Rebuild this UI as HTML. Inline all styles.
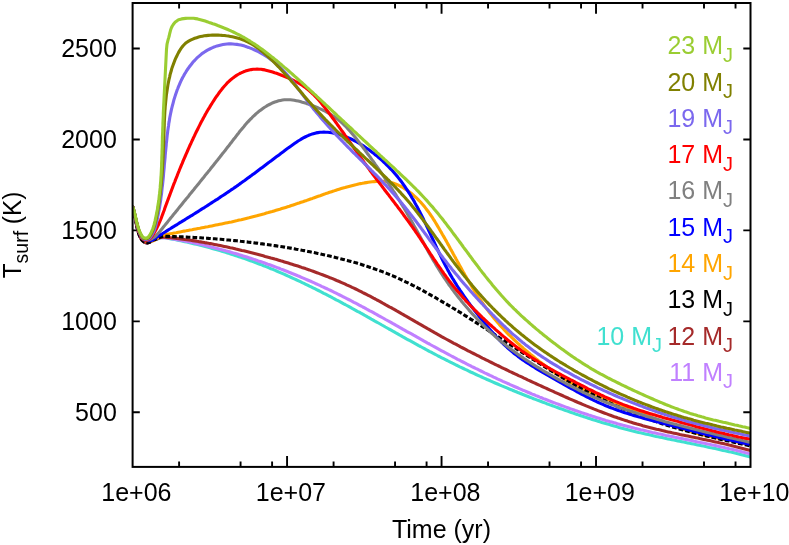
<!DOCTYPE html>
<html><head><meta charset="utf-8"><title>Tsurf vs Time</title>
<style>html,body{margin:0;padding:0;background:#fff;}body{width:789px;height:545px;overflow:hidden;font-family:"Liberation Sans",sans-serif;}svg{display:block;will-change:transform;}</style></head>
<body>
<svg width="789" height="545" viewBox="0 0 789 545">
<rect width="789" height="545" fill="#fff"/>
<defs><clipPath id="c"><rect x="132.60" y="3.00" width="617.90" height="463.90"/></clipPath></defs>
<path d="M179.10 466.90 v-5.40 M179.10 3.00 v5.40 M240.57 466.90 v-5.40 M240.57 3.00 v5.40 M272.10 466.90 v-5.40 M272.10 3.00 v5.40 M287.07 466.90 v-10.80 M287.07 3.00 v10.80 M333.58 466.90 v-5.40 M333.58 3.00 v5.40 M395.05 466.90 v-5.40 M395.05 3.00 v5.40 M426.58 466.90 v-5.40 M426.58 3.00 v5.40 M441.55 466.90 v-10.80 M441.55 3.00 v10.80 M488.05 466.90 v-5.40 M488.05 3.00 v5.40 M549.52 466.90 v-5.40 M549.52 3.00 v5.40 M581.05 466.90 v-5.40 M581.05 3.00 v5.40 M596.02 466.90 v-10.80 M596.02 3.00 v10.80 M642.53 466.90 v-5.40 M642.53 3.00 v5.40 M704.00 466.90 v-5.40 M704.00 3.00 v5.40 M735.53 466.90 v-5.40 M735.53 3.00 v5.40 M132.60 412.32 h7.20 M750.50 412.32 h-7.20 M132.60 321.36 h7.20 M750.50 321.36 h-7.20 M132.60 230.40 h7.20 M750.50 230.40 h-7.20 M132.60 139.44 h7.20 M750.50 139.44 h-7.20 M132.60 48.48 h7.20 M750.50 48.48 h-7.20" stroke="#000" stroke-width="1.9" fill="none"/>
<g clip-path="url(#c)" fill="none" stroke-width="3.1" stroke-linejoin="round">
<path d="M132.5 206.1 L133.0 208.0 L133.5 210.0 L133.9 211.9 L134.3 213.9 L134.7 215.9 L135.1 217.9 L135.5 219.8 L135.9 221.8 L136.3 223.8 L136.7 225.8 L137.1 227.7 L137.6 229.7 L138.1 231.6 L138.7 233.5 L139.4 235.4 L140.2 237.2 L141.2 239.1 L142.4 240.7 L143.9 242.0 L145.8 242.8 L147.8 242.9 L149.8 242.2 L151.6 241.1 L153.4 240.3 L155.2 239.8 L157.1 239.2 L159.1 238.3 L161.1 237.7 L163.1 237.6 L165.1 237.8 L167.1 238.2 L169.1 238.5 L171.0 238.9 L173.0 239.2 L175.0 239.6 L176.9 240.0 L178.9 240.4 L180.9 240.8 L182.8 241.2 L184.8 241.7 L186.8 242.1 L188.7 242.5 L190.7 243.0 L192.6 243.4 L194.6 243.9 L196.5 244.3 L198.5 244.8 L200.4 245.3 L202.4 245.8 L204.3 246.3 L206.3 246.8 L208.2 247.3 L210.2 247.8 L212.1 248.4 L214.0 248.9 L216.0 249.5 L217.9 250.0 L219.8 250.6 L221.8 251.2 L223.7 251.8 L225.6 252.3 L227.5 252.9 L229.5 253.5 L231.4 254.2 L233.3 254.8 L235.2 255.4 L237.1 256.0 L239.0 256.7 L240.9 257.3 L242.8 258.0 L244.7 258.6 L246.6 259.3 L248.5 260.0 L250.4 260.7 L252.3 261.4 L254.2 262.1 L256.1 262.8 L257.9 263.5 L259.8 264.2 L261.7 264.9 L263.6 265.7 L265.4 266.4 L267.3 267.1 L269.1 267.9 L271.0 268.7 L272.9 269.4 L274.7 270.2 L276.6 271.0 L278.4 271.8 L280.3 272.6 L282.1 273.4 L283.9 274.2 L285.8 275.0 L287.6 275.8 L289.4 276.6 L291.3 277.5 L293.1 278.3 L294.9 279.1 L296.8 280.0 L298.6 280.8 L300.4 281.7 L302.2 282.6 L304.0 283.4 L305.8 284.3 L307.6 285.2 L309.4 286.1 L311.2 286.9 L313.0 287.8 L314.8 288.7 L316.6 289.6 L318.4 290.5 L320.2 291.4 L322.0 292.3 L323.8 293.3 L325.6 294.2 L327.4 295.1 L329.1 296.0 L330.9 296.9 L332.7 297.9 L334.5 298.8 L336.2 299.8 L338.0 300.7 L339.8 301.6 L341.6 302.6 L343.3 303.6 L345.1 304.5 L346.9 305.5 L348.6 306.4 L350.4 307.4 L352.1 308.4 L353.9 309.3 L355.7 310.3 L357.4 311.3 L359.2 312.2 L360.9 313.2 L362.7 314.2 L364.4 315.2 L366.2 316.1 L367.9 317.1 L369.7 318.1 L371.4 319.1 L373.2 320.1 L374.9 321.1 L376.7 322.1 L378.4 323.0 L380.2 324.0 L381.9 325.0 L383.7 326.0 L385.4 327.0 L387.2 328.0 L388.9 329.0 L390.7 329.9 L392.4 330.9 L394.2 331.9 L395.9 332.9 L397.7 333.9 L399.4 334.9 L401.2 335.8 L402.9 336.8 L404.7 337.8 L406.4 338.8 L408.2 339.8 L409.9 340.7 L411.7 341.7 L413.5 342.7 L415.2 343.6 L417.0 344.6 L418.7 345.6 L420.5 346.5 L422.3 347.5 L424.0 348.4 L425.8 349.4 L427.6 350.3 L429.3 351.3 L431.1 352.2 L432.9 353.2 L434.7 354.1 L436.4 355.0 L438.2 356.0 L440.0 356.9 L441.8 357.8 L443.6 358.7 L445.4 359.6 L447.2 360.5 L448.9 361.4 L450.8 362.3 L452.5 363.2 L454.4 364.1 L456.1 365.0 L457.9 365.9 L459.8 366.8 L461.6 367.6 L463.4 368.5 L465.2 369.4 L467.0 370.2 L468.8 371.1 L470.6 372.0 L472.5 372.8 L474.3 373.6 L476.1 374.5 L477.9 375.3 L479.8 376.2 L481.6 377.0 L483.4 377.8 L485.3 378.6 L487.1 379.5 L489.0 380.3 L490.8 381.1 L492.6 381.9 L494.5 382.7 L496.3 383.5 L498.2 384.3 L500.0 385.1 L501.9 385.9 L503.7 386.6 L505.6 387.4 L507.4 388.2 L509.3 389.0 L511.2 389.7 L513.0 390.5 L514.9 391.3 L516.8 392.0 L518.6 392.8 L520.5 393.5 L522.4 394.3 L524.2 395.0 L526.1 395.8 L528.0 396.5 L529.8 397.2 L531.7 397.9 L533.6 398.7 L535.5 399.4 L537.3 400.1 L539.2 400.8 L541.1 401.5 L543.0 402.2 L544.9 402.9 L546.7 403.7 L548.6 404.4 L550.5 405.1 L552.4 405.7 L554.3 406.4 L556.2 407.1 L558.0 407.8 L559.9 408.5 L561.8 409.1 L563.7 409.8 L565.6 410.5 L567.5 411.1 L569.4 411.8 L571.3 412.5 L573.2 413.1 L575.1 413.8 L577.0 414.4 L578.9 415.1 L580.8 415.7 L582.7 416.3 L584.6 416.9 L586.5 417.6 L588.4 418.2 L590.3 418.8 L592.2 419.4 L594.1 420.0 L596.0 420.6 L598.0 421.2 L599.9 421.8 L601.8 422.4 L603.7 422.9 L605.6 423.5 L607.5 424.1 L609.5 424.6 L611.4 425.2 L613.3 425.7 L615.2 426.3 L617.2 426.8 L619.1 427.4 L621.0 427.9 L623.0 428.4 L624.9 428.9 L626.9 429.4 L628.8 429.9 L630.7 430.4 L632.7 430.9 L634.6 431.4 L636.6 431.9 L638.5 432.4 L640.5 432.8 L642.4 433.3 L644.4 433.7 L646.4 434.2 L648.3 434.6 L650.3 435.1 L652.2 435.5 L654.2 435.9 L656.2 436.4 L658.1 436.8 L660.1 437.2 L662.1 437.6 L664.0 438.1 L666.0 438.5 L668.0 438.9 L669.9 439.3 L671.9 439.7 L673.9 440.1 L675.9 440.5 L677.8 440.9 L679.8 441.3 L681.8 441.7 L683.7 442.1 L685.7 442.5 L687.7 442.9 L689.7 443.3 L691.6 443.7 L693.6 444.1 L695.6 444.5 L697.5 444.9 L699.5 445.3 L701.5 445.7 L703.5 446.1 L705.4 446.5 L707.4 446.9 L709.4 447.4 L711.3 447.8 L713.3 448.2 L715.3 448.6 L717.2 449.1 L719.2 449.5 L721.2 449.9 L723.1 450.4 L725.1 450.8 L727.0 451.2 L729.0 451.7 L731.0 452.1 L732.9 452.6 L734.9 453.1 L736.8 453.5 L738.8 454.0 L740.7 454.5 L742.6 455.0 L744.6 455.5 L746.5 456.0 L748.5 456.5 L750.4 457.0" stroke="#40E0D0"/>
<path d="M132.5 206.1 L133.0 208.0 L133.5 210.0 L133.9 211.9 L134.3 213.9 L134.7 215.9 L135.1 217.8 L135.5 219.8 L135.9 221.8 L136.3 223.8 L136.7 225.7 L137.1 227.7 L137.6 229.6 L138.1 231.6 L138.7 233.5 L139.4 235.4 L140.2 237.2 L141.2 239.0 L142.4 240.6 L143.9 241.9 L145.8 242.8 L147.8 242.9 L149.7 242.2 L151.6 241.1 L153.3 240.3 L155.2 239.7 L157.0 239.1 L159.0 238.2 L161.0 237.6 L163.0 237.4 L165.0 237.6 L167.0 237.9 L168.9 238.2 L170.9 238.5 L172.9 238.9 L174.9 239.2 L176.8 239.6 L178.8 239.9 L180.8 240.3 L182.8 240.7 L184.7 241.0 L186.7 241.4 L188.7 241.8 L190.6 242.2 L192.6 242.6 L194.5 243.1 L196.5 243.5 L198.5 243.9 L200.4 244.3 L202.4 244.8 L204.3 245.3 L206.3 245.7 L208.2 246.2 L210.2 246.7 L212.1 247.2 L214.1 247.7 L216.0 248.2 L218.0 248.7 L219.9 249.2 L221.8 249.7 L223.8 250.2 L225.7 250.8 L227.6 251.3 L229.6 251.8 L231.5 252.4 L233.4 253.0 L235.4 253.5 L237.3 254.1 L239.2 254.7 L241.1 255.3 L243.1 255.9 L245.0 256.5 L246.9 257.1 L248.8 257.7 L250.7 258.3 L252.6 258.9 L254.5 259.6 L256.4 260.2 L258.3 260.9 L260.2 261.5 L262.1 262.1 L264.0 262.8 L265.9 263.5 L267.8 264.2 L269.7 264.8 L271.6 265.5 L273.5 266.2 L275.3 266.9 L277.2 267.6 L279.1 268.3 L281.0 269.1 L282.9 269.8 L284.7 270.5 L286.6 271.2 L288.4 272.0 L290.3 272.7 L292.2 273.5 L294.0 274.2 L295.9 275.0 L297.8 275.8 L299.6 276.5 L301.4 277.3 L303.3 278.1 L305.1 278.9 L307.0 279.7 L308.8 280.5 L310.7 281.3 L312.5 282.1 L314.3 282.9 L316.1 283.8 L318.0 284.6 L319.8 285.4 L321.6 286.3 L323.4 287.1 L325.2 288.0 L327.1 288.8 L328.9 289.7 L330.7 290.5 L332.5 291.4 L334.3 292.3 L336.1 293.2 L337.9 294.1 L339.7 295.0 L341.5 295.9 L343.3 296.8 L345.0 297.7 L346.8 298.6 L348.6 299.5 L350.4 300.4 L352.2 301.3 L353.9 302.3 L355.7 303.2 L357.5 304.1 L359.2 305.1 L361.0 306.0 L362.8 307.0 L364.6 307.9 L366.3 308.9 L368.1 309.8 L369.8 310.8 L371.6 311.7 L373.4 312.7 L375.1 313.7 L376.9 314.6 L378.6 315.6 L380.4 316.6 L382.1 317.5 L383.9 318.5 L385.6 319.5 L387.4 320.5 L389.1 321.4 L390.9 322.4 L392.6 323.4 L394.4 324.4 L396.1 325.4 L397.9 326.4 L399.6 327.3 L401.4 328.3 L403.1 329.3 L404.9 330.3 L406.6 331.3 L408.4 332.3 L410.1 333.2 L411.9 334.2 L413.6 335.2 L415.4 336.2 L417.1 337.2 L418.9 338.2 L420.6 339.1 L422.4 340.1 L424.1 341.1 L425.9 342.1 L427.6 343.1 L429.4 344.0 L431.1 345.0 L432.9 346.0 L434.6 346.9 L436.4 347.9 L438.2 348.9 L439.9 349.8 L441.7 350.8 L443.4 351.7 L445.2 352.7 L447.0 353.6 L448.8 354.6 L450.5 355.5 L452.3 356.5 L454.1 357.4 L455.9 358.3 L457.6 359.3 L459.4 360.2 L461.2 361.1 L463.0 362.0 L464.8 362.9 L466.6 363.9 L468.4 364.8 L470.2 365.7 L471.9 366.6 L473.8 367.5 L475.6 368.4 L477.4 369.2 L479.2 370.1 L481.0 371.0 L482.8 371.9 L484.6 372.8 L486.4 373.6 L488.2 374.5 L490.0 375.4 L491.8 376.2 L493.6 377.1 L495.5 377.9 L497.3 378.8 L499.1 379.6 L500.9 380.4 L502.8 381.3 L504.6 382.1 L506.4 382.9 L508.3 383.7 L510.1 384.6 L511.9 385.4 L513.8 386.2 L515.6 387.0 L517.5 387.8 L519.3 388.6 L521.1 389.4 L523.0 390.2 L524.8 390.9 L526.7 391.7 L528.5 392.5 L530.4 393.3 L532.2 394.1 L534.1 394.8 L536.0 395.6 L537.8 396.3 L539.7 397.1 L541.5 397.8 L543.4 398.6 L545.3 399.3 L547.1 400.0 L549.0 400.8 L550.9 401.5 L552.7 402.2 L554.6 402.9 L556.5 403.6 L558.4 404.3 L560.2 405.0 L562.1 405.7 L564.0 406.4 L565.9 407.1 L567.8 407.8 L569.7 408.5 L571.5 409.1 L573.4 409.8 L575.3 410.5 L577.2 411.1 L579.1 411.8 L581.0 412.4 L582.9 413.1 L584.8 413.7 L586.7 414.3 L588.6 415.0 L590.5 415.6 L592.4 416.2 L594.3 416.8 L596.2 417.4 L598.1 418.0 L600.0 418.6 L602.0 419.2 L603.9 419.8 L605.8 420.4 L607.7 420.9 L609.6 421.5 L611.6 422.0 L613.5 422.6 L615.4 423.1 L617.4 423.7 L619.3 424.2 L621.2 424.7 L623.1 425.3 L625.1 425.8 L627.0 426.3 L629.0 426.8 L630.9 427.3 L632.9 427.8 L634.8 428.3 L636.7 428.7 L638.7 429.2 L640.6 429.7 L642.6 430.1 L644.5 430.6 L646.5 431.1 L648.5 431.5 L650.4 431.9 L652.4 432.4 L654.3 432.8 L656.3 433.2 L658.3 433.7 L660.2 434.1 L662.2 434.5 L664.2 434.9 L666.1 435.4 L668.1 435.8 L670.1 436.2 L672.0 436.6 L674.0 437.0 L676.0 437.4 L677.9 437.8 L679.9 438.2 L681.9 438.6 L683.8 439.0 L685.8 439.4 L687.8 439.8 L689.8 440.2 L691.7 440.6 L693.7 441.1 L695.6 441.5 L697.6 441.9 L699.6 442.3 L701.6 442.7 L703.5 443.1 L705.5 443.5 L707.5 443.9 L709.4 444.3 L711.4 444.8 L713.4 445.2 L715.3 445.6 L717.3 446.0 L719.2 446.5 L721.2 446.9 L723.1 447.3 L725.1 447.8 L727.1 448.2 L729.0 448.7 L731.0 449.1 L732.9 449.6 L734.9 450.1 L736.8 450.5 L738.8 451.0 L740.7 451.5 L742.6 452.0 L744.6 452.5 L746.5 453.0 L748.5 453.5 L750.4 454.0" stroke="#C080FF"/>
<path d="M132.5 206.1 L133.0 208.0 L133.5 210.0 L133.9 211.9 L134.3 213.9 L134.7 215.9 L135.1 217.8 L135.5 219.8 L135.9 221.8 L136.3 223.8 L136.7 225.7 L137.1 227.7 L137.6 229.6 L138.1 231.6 L138.7 233.5 L139.4 235.4 L140.2 237.2 L141.2 239.0 L142.4 240.6 L143.9 241.9 L145.8 242.8 L147.8 242.9 L149.7 242.2 L151.5 241.1 L153.3 240.2 L155.1 239.6 L157.0 238.9 L158.9 238.1 L160.8 237.4 L162.8 237.1 L164.8 237.2 L166.8 237.4 L168.8 237.6 L170.8 237.8 L172.8 238.0 L174.8 238.2 L176.8 238.4 L178.8 238.7 L180.8 238.9 L182.8 239.2 L184.8 239.5 L186.8 239.7 L188.8 240.0 L190.8 240.3 L192.7 240.6 L194.7 240.9 L196.7 241.2 L198.7 241.6 L200.7 241.9 L202.6 242.2 L204.6 242.6 L206.6 242.9 L208.5 243.3 L210.5 243.6 L212.5 244.0 L214.4 244.4 L216.4 244.8 L218.4 245.2 L220.3 245.6 L222.3 246.0 L224.2 246.4 L226.2 246.8 L228.2 247.2 L230.1 247.7 L232.1 248.1 L234.0 248.5 L236.0 249.0 L237.9 249.4 L239.9 249.9 L241.8 250.4 L243.8 250.8 L245.7 251.3 L247.7 251.8 L249.6 252.3 L251.5 252.8 L253.5 253.3 L255.4 253.8 L257.4 254.3 L259.3 254.8 L261.2 255.3 L263.2 255.8 L265.1 256.4 L267.1 256.9 L269.0 257.4 L270.9 258.0 L272.9 258.5 L274.8 259.1 L276.7 259.6 L278.7 260.2 L280.6 260.8 L282.5 261.3 L284.4 261.9 L286.4 262.5 L288.3 263.1 L290.2 263.7 L292.1 264.3 L294.1 264.9 L296.0 265.5 L297.9 266.1 L299.8 266.7 L301.7 267.4 L303.6 268.0 L305.5 268.6 L307.4 269.3 L309.3 269.9 L311.2 270.6 L313.1 271.3 L315.0 272.0 L316.9 272.7 L318.8 273.4 L320.6 274.1 L322.5 274.8 L324.4 275.5 L326.3 276.2 L328.1 276.9 L330.0 277.7 L331.9 278.4 L333.7 279.2 L335.6 280.0 L337.4 280.8 L339.3 281.5 L341.1 282.3 L342.9 283.1 L344.8 283.9 L346.6 284.8 L348.4 285.6 L350.2 286.4 L352.1 287.3 L353.9 288.1 L355.7 289.0 L357.5 289.9 L359.3 290.8 L361.1 291.7 L362.8 292.6 L364.6 293.5 L366.4 294.4 L368.2 295.3 L370.0 296.2 L371.7 297.1 L373.5 298.1 L375.3 299.0 L377.0 300.0 L378.8 300.9 L380.6 301.9 L382.3 302.9 L384.1 303.8 L385.8 304.8 L387.6 305.8 L389.3 306.8 L391.1 307.7 L392.8 308.7 L394.6 309.7 L396.3 310.7 L398.1 311.7 L399.8 312.7 L401.5 313.7 L403.3 314.7 L405.0 315.7 L406.8 316.7 L408.5 317.7 L410.2 318.7 L412.0 319.7 L413.7 320.7 L415.4 321.7 L417.2 322.7 L418.9 323.7 L420.7 324.7 L422.4 325.7 L424.1 326.7 L425.9 327.7 L427.6 328.7 L429.4 329.7 L431.1 330.7 L432.9 331.7 L434.6 332.7 L436.4 333.7 L438.1 334.6 L439.9 335.6 L441.6 336.6 L443.4 337.6 L445.1 338.5 L446.9 339.5 L448.6 340.4 L450.4 341.4 L452.2 342.4 L453.9 343.3 L455.7 344.2 L457.5 345.2 L459.3 346.1 L461.0 347.1 L462.8 348.0 L464.6 348.9 L466.4 349.9 L468.1 350.8 L469.9 351.7 L471.7 352.6 L473.5 353.5 L475.3 354.4 L477.1 355.3 L478.9 356.2 L480.6 357.1 L482.4 358.1 L484.2 358.9 L486.0 359.8 L487.8 360.7 L489.6 361.6 L491.4 362.5 L493.2 363.4 L495.0 364.3 L496.8 365.2 L498.6 366.0 L500.4 366.9 L502.2 367.8 L504.1 368.7 L505.9 369.5 L507.7 370.4 L509.5 371.3 L511.3 372.1 L513.1 373.0 L514.9 373.8 L516.7 374.7 L518.5 375.6 L520.4 376.4 L522.2 377.2 L524.0 378.1 L525.8 378.9 L527.6 379.8 L529.4 380.6 L531.3 381.5 L533.1 382.3 L534.9 383.1 L536.7 384.0 L538.5 384.8 L540.4 385.6 L542.2 386.5 L544.0 387.3 L545.9 388.1 L547.7 389.0 L549.5 389.8 L551.3 390.6 L553.2 391.4 L555.0 392.3 L556.8 393.1 L558.6 393.9 L560.5 394.7 L562.3 395.5 L564.1 396.4 L566.0 397.2 L567.8 398.0 L569.6 398.8 L571.5 399.6 L573.3 400.4 L575.2 401.2 L577.0 402.0 L578.8 402.8 L580.7 403.5 L582.5 404.3 L584.4 405.1 L586.2 405.9 L588.1 406.6 L589.9 407.4 L591.8 408.1 L593.6 408.9 L595.5 409.6 L597.4 410.4 L599.2 411.1 L601.1 411.8 L602.9 412.5 L604.8 413.2 L606.7 413.9 L608.5 414.6 L610.4 415.3 L612.3 416.0 L614.2 416.7 L616.1 417.3 L618.0 418.0 L619.9 418.6 L621.8 419.3 L623.6 419.9 L625.5 420.5 L627.5 421.1 L629.4 421.8 L631.3 422.3 L633.2 422.9 L635.1 423.5 L637.0 424.1 L638.9 424.6 L640.9 425.1 L642.8 425.7 L644.7 426.2 L646.7 426.7 L648.6 427.2 L650.5 427.7 L652.5 428.2 L654.4 428.7 L656.4 429.2 L658.3 429.6 L660.3 430.1 L662.2 430.6 L664.2 431.0 L666.2 431.5 L668.1 431.9 L670.1 432.3 L672.1 432.8 L674.0 433.2 L676.0 433.6 L678.0 434.0 L679.9 434.5 L681.9 434.9 L683.9 435.3 L685.9 435.7 L687.8 436.1 L689.8 436.5 L691.8 436.9 L693.7 437.3 L695.7 437.7 L697.7 438.1 L699.7 438.6 L701.6 439.0 L703.6 439.4 L705.6 439.8 L707.5 440.2 L709.5 440.6 L711.5 441.0 L713.4 441.5 L715.4 441.9 L717.4 442.3 L719.3 442.8 L721.3 443.2 L723.2 443.6 L725.2 444.1 L727.2 444.5 L729.1 445.0 L731.1 445.4 L733.0 445.9 L735.0 446.4 L736.9 446.9 L738.8 447.4 L740.8 447.9 L742.7 448.4 L744.6 448.9 L746.5 449.4 L748.5 450.0 L750.4 450.5" stroke="#A52A2A"/>
<path d="M132.5 206.1 L133.1 208.0 L133.6 210.0 L134.1 211.9 L134.5 213.9 L135.0 215.8 L135.4 217.8 L135.8 219.8 L136.2 221.7 L136.7 223.7 L137.1 225.6 L137.6 227.6 L138.2 229.6 L138.8 231.5 L139.4 233.4 L140.2 235.2 L141.2 237.0 L142.3 238.6 L143.8 239.9 L145.7 240.9 L147.8 241.3 L149.7 241.2 L151.6 240.9 L153.7 240.6 L155.5 239.7 L157.2 238.3 L158.8 237.0 L160.6 236.1 L162.5 235.4 L164.4 235.0 L166.4 234.6 L168.3 234.2 L170.3 233.8 L172.3 233.4 L174.2 233.0 L176.2 232.7 L178.2 232.3 L180.1 231.9 L182.1 231.5 L184.1 231.1 L186.0 230.8 L188.0 230.4 L190.0 230.0 L192.0 229.7 L193.9 229.3 L195.9 228.9 L197.9 228.5 L199.9 228.2 L201.9 227.8 L203.8 227.4 L205.8 227.0 L207.8 226.7 L209.8 226.3 L211.8 225.9 L213.7 225.5 L215.7 225.1 L217.7 224.7 L219.7 224.3 L221.6 223.9 L223.6 223.5 L225.6 223.1 L227.5 222.7 L229.5 222.3 L231.5 221.9 L233.4 221.4 L235.4 221.0 L237.3 220.6 L239.3 220.1 L241.2 219.7 L243.2 219.2 L245.2 218.7 L247.1 218.2 L249.0 217.8 L251.0 217.3 L252.9 216.8 L254.9 216.3 L256.8 215.8 L258.7 215.2 L260.7 214.7 L262.6 214.2 L264.5 213.7 L266.4 213.1 L268.4 212.6 L270.3 212.0 L272.2 211.5 L274.1 210.9 L276.1 210.3 L278.0 209.7 L279.9 209.2 L281.8 208.6 L283.7 208.0 L285.7 207.4 L287.6 206.8 L289.5 206.2 L291.4 205.5 L293.3 204.9 L295.2 204.3 L297.1 203.6 L299.1 203.0 L301.0 202.3 L302.9 201.7 L304.8 201.0 L306.7 200.4 L308.6 199.7 L310.5 199.0 L312.4 198.4 L314.3 197.7 L316.2 197.0 L318.2 196.3 L320.1 195.7 L322.0 195.0 L323.9 194.3 L325.8 193.6 L327.7 193.0 L329.6 192.3 L331.6 191.7 L333.5 191.1 L335.4 190.4 L337.3 189.8 L339.2 189.2 L341.2 188.6 L343.1 188.0 L345.0 187.5 L346.9 186.9 L348.9 186.4 L350.8 185.9 L352.7 185.4 L354.7 184.9 L356.6 184.5 L358.6 184.0 L360.5 183.6 L362.4 183.3 L364.4 182.9 L366.3 182.6 L368.3 182.3 L370.2 182.0 L372.2 181.8 L374.2 181.6 L376.1 181.4 L378.1 181.3 L380.0 181.3 L382.0 181.3 L383.9 181.4 L385.9 181.6 L387.8 181.9 L389.7 182.2 L391.6 182.7 L393.6 183.3 L395.4 183.9 L397.3 184.7 L399.2 185.6 L401.0 186.5 L402.9 187.5 L404.6 188.6 L406.4 189.8 L408.1 191.0 L409.8 192.2 L411.5 193.5 L413.1 194.9 L414.7 196.3 L416.2 197.7 L417.7 199.1 L419.1 200.6 L420.5 202.0 L421.8 203.5 L423.1 205.0 L424.4 206.6 L425.6 208.1 L426.8 209.7 L428.0 211.3 L429.2 212.9 L430.3 214.5 L431.4 216.1 L432.5 217.7 L433.5 219.4 L434.6 221.0 L435.6 222.7 L436.6 224.4 L437.6 226.1 L438.6 227.8 L439.6 229.5 L440.6 231.2 L441.6 232.9 L442.6 234.7 L443.6 236.4 L444.6 238.1 L445.6 239.9 L446.6 241.6 L447.5 243.4 L448.5 245.1 L449.5 246.9 L450.4 248.7 L451.4 250.4 L452.4 252.2 L453.3 254.0 L454.3 255.8 L455.3 257.5 L456.2 259.3 L457.2 261.1 L458.2 262.8 L459.1 264.6 L460.1 266.4 L461.1 268.1 L462.1 269.9 L463.1 271.7 L464.1 273.4 L465.1 275.2 L466.1 276.9 L467.1 278.7 L468.1 280.4 L469.2 282.2 L470.2 283.9 L471.3 285.6 L472.3 287.4 L473.4 289.1 L474.4 290.8 L475.5 292.5 L476.6 294.1 L477.7 295.8 L478.8 297.5 L479.9 299.2 L481.1 300.8 L482.2 302.5 L483.4 304.1 L484.5 305.8 L485.7 307.4 L486.9 309.0 L488.1 310.6 L489.3 312.2 L490.5 313.8 L491.7 315.3 L493.0 316.9 L494.2 318.5 L495.5 320.0 L496.8 321.5 L498.1 323.1 L499.4 324.6 L500.8 326.1 L502.1 327.5 L503.5 329.0 L504.8 330.5 L506.2 331.9 L507.6 333.4 L509.0 334.8 L510.5 336.2 L511.9 337.6 L513.3 339.0 L514.8 340.4 L516.3 341.8 L517.7 343.2 L519.2 344.5 L520.7 345.9 L522.2 347.2 L523.7 348.6 L525.3 349.9 L526.8 351.2 L528.3 352.5 L529.9 353.8 L531.4 355.1 L533.0 356.3 L534.6 357.6 L536.1 358.9 L537.7 360.1 L539.3 361.4 L540.9 362.6 L542.5 363.8 L544.1 365.0 L545.7 366.2 L547.3 367.4 L548.9 368.6 L550.6 369.7 L552.2 370.9 L553.9 372.0 L555.5 373.1 L557.2 374.2 L558.9 375.3 L560.5 376.4 L562.2 377.5 L563.9 378.5 L565.6 379.6 L567.4 380.6 L569.1 381.6 L570.8 382.6 L572.6 383.6 L574.3 384.5 L576.1 385.4 L577.9 386.4 L579.7 387.3 L581.5 388.2 L583.3 389.0 L585.1 389.9 L586.9 390.8 L588.7 391.6 L590.5 392.4 L592.4 393.2 L594.2 394.0 L596.1 394.8 L597.9 395.6 L599.8 396.4 L601.6 397.2 L603.5 397.9 L605.4 398.7 L607.2 399.4 L609.1 400.2 L611.0 400.9 L612.9 401.7 L614.8 402.4 L616.6 403.1 L618.5 403.9 L620.4 404.6 L622.3 405.3 L624.1 406.1 L626.0 406.8 L627.9 407.6 L629.8 408.3 L631.6 409.0 L633.5 409.8 L635.4 410.5 L637.2 411.3 L639.1 412.1 L641.0 412.8 L642.8 413.6 L644.7 414.4 L646.5 415.1 L648.4 415.9 L650.2 416.7 L652.1 417.4 L654.0 418.2 L655.8 419.0 L657.7 419.7 L659.5 420.5 L661.4 421.2 L663.2 422.0 L665.1 422.7 L667.0 423.4 L668.8 424.1 L670.7 424.9 L672.5 425.6 L674.4 426.2 L676.3 426.9 L678.2 427.6 L680.1 428.3 L682.0 428.9 L683.9 429.5 L685.8 430.1 L687.7 430.7 L689.6 431.3 L691.5 431.9 L693.5 432.4 L695.4 433.0 L697.3 433.5 L699.3 434.0 L701.2 434.4 L703.2 434.9 L705.2 435.4 L707.1 435.8 L709.1 436.2 L711.1 436.6 L713.1 437.1 L715.1 437.5 L717.0 437.9 L719.0 438.3 L721.0 438.7 L723.0 439.1 L725.0 439.5 L727.0 439.9 L729.0 440.3 L730.9 440.7 L732.9 441.1 L734.9 441.5 L736.8 441.9 L738.8 442.4 L740.7 442.8 L742.7 443.3 L744.6 443.8 L746.6 444.3 L748.5 444.8 L750.4 445.3" stroke="#FFA500"/>
<path d="M132.5 206.1 L133.0 208.0 L133.5 210.0 L133.9 211.9 L134.3 213.9 L134.7 215.9 L135.1 217.8 L135.5 219.8 L135.9 221.8 L136.3 223.8 L136.7 225.7 L137.1 227.7 L137.6 229.6 L138.1 231.6 L138.7 233.5 L139.4 235.4 L140.2 237.2 L141.2 239.0 L142.4 240.6 L143.9 241.9 L145.8 242.8 L147.8 242.9 L149.7 242.2 L151.5 241.0 L153.2 240.1 L155.0 239.5 L156.9 238.7 L158.8 237.8 L160.7 236.9 L162.6 236.5 L164.6 236.3 L166.6 236.4 L168.6 236.4 L170.6 236.5 L172.6 236.6 L174.6 236.6 L176.6 236.7 L178.6 236.8 L180.6 236.8 L182.6 236.9 L184.6 237.0 L186.6 237.1 L188.6 237.2 L190.6 237.3 L192.6 237.4 L194.6 237.5 L196.6 237.6 L198.6 237.7 L200.6 237.8 L202.7 238.0 L204.7 238.1 L206.7 238.2 L208.7 238.4 L210.7 238.5 L212.7 238.7 L214.7 238.8 L216.7 239.0 L218.7 239.2 L220.7 239.3 L222.7 239.5 L224.7 239.7 L226.7 239.9 L228.7 240.0 L230.7 240.2 L232.7 240.4 L234.7 240.6 L236.7 240.8 L238.7 241.0 L240.7 241.3 L242.7 241.5 L244.7 241.7 L246.7 241.9 L248.7 242.2 L250.7 242.4 L252.6 242.6 L254.6 242.9 L256.6 243.1 L258.6 243.4 L260.6 243.7 L262.6 243.9 L264.6 244.2 L266.6 244.4 L268.5 244.7 L270.5 245.0 L272.5 245.3 L274.5 245.6 L276.5 245.9 L278.4 246.2 L280.4 246.5 L282.4 246.8 L284.4 247.1 L286.3 247.5 L288.3 247.8 L290.3 248.1 L292.3 248.5 L294.2 248.8 L296.2 249.2 L298.2 249.5 L300.1 249.9 L302.1 250.3 L304.1 250.6 L306.1 251.0 L308.0 251.4 L310.0 251.8 L311.9 252.2 L313.9 252.6 L315.9 253.0 L317.8 253.4 L319.8 253.8 L321.8 254.3 L323.7 254.7 L325.7 255.1 L327.6 255.6 L329.6 256.0 L331.6 256.5 L333.5 256.9 L335.5 257.4 L337.4 257.9 L339.4 258.4 L341.4 258.9 L343.3 259.4 L345.2 259.9 L347.2 260.4 L349.1 260.9 L351.1 261.5 L353.0 262.0 L355.0 262.6 L356.9 263.1 L358.8 263.7 L360.8 264.3 L362.7 264.9 L364.6 265.5 L366.5 266.1 L368.4 266.8 L370.3 267.4 L372.2 268.0 L374.1 268.7 L376.0 269.4 L377.9 270.0 L379.8 270.7 L381.7 271.4 L383.5 272.2 L385.4 272.9 L387.3 273.6 L389.1 274.4 L391.0 275.2 L392.8 275.9 L394.7 276.7 L396.5 277.6 L398.3 278.4 L400.1 279.2 L401.9 280.0 L403.8 280.9 L405.6 281.8 L407.4 282.6 L409.2 283.5 L411.0 284.4 L412.7 285.3 L414.5 286.2 L416.3 287.1 L418.1 288.1 L419.9 289.0 L421.6 289.9 L423.4 290.9 L425.1 291.9 L426.9 292.8 L428.6 293.8 L430.4 294.8 L432.1 295.8 L433.9 296.8 L435.6 297.7 L437.3 298.8 L439.1 299.8 L440.8 300.8 L442.5 301.8 L444.2 302.8 L446.0 303.8 L447.7 304.9 L449.4 305.9 L451.1 306.9 L452.8 308.0 L454.6 309.0 L456.2 310.1 L458.0 311.1 L459.7 312.2 L461.4 313.2 L463.1 314.3 L464.8 315.4 L466.5 316.4 L468.2 317.5 L469.9 318.6 L471.5 319.7 L473.2 320.7 L474.9 321.8 L476.6 322.9 L478.3 324.0 L480.0 325.1 L481.7 326.1 L483.4 327.2 L485.1 328.3 L486.7 329.4 L488.4 330.5 L490.1 331.6 L491.8 332.7 L493.5 333.8 L495.1 334.9 L496.8 336.0 L498.5 337.1 L500.2 338.2 L501.9 339.3 L503.5 340.4 L505.2 341.4 L506.9 342.6 L508.6 343.6 L510.3 344.7 L511.9 345.8 L513.6 346.9 L515.3 348.0 L517.0 349.1 L518.7 350.2 L520.4 351.3 L522.0 352.4 L523.7 353.5 L525.4 354.6 L527.1 355.6 L528.8 356.7 L530.5 357.8 L532.2 358.9 L533.9 360.0 L535.6 361.0 L537.3 362.1 L539.0 363.2 L540.7 364.2 L542.4 365.3 L544.1 366.4 L545.8 367.4 L547.5 368.5 L549.2 369.5 L550.9 370.6 L552.6 371.6 L554.3 372.7 L556.0 373.7 L557.8 374.8 L559.5 375.8 L561.2 376.8 L562.9 377.8 L564.7 378.9 L566.4 379.9 L568.1 380.9 L569.9 381.9 L571.6 382.9 L573.4 383.9 L575.1 384.9 L576.9 385.8 L578.6 386.8 L580.4 387.8 L582.1 388.8 L583.9 389.7 L585.6 390.7 L587.4 391.6 L589.2 392.6 L590.9 393.5 L592.7 394.4 L594.5 395.4 L596.3 396.3 L598.1 397.2 L599.9 398.1 L601.6 399.0 L603.5 399.9 L605.2 400.7 L607.0 401.6 L608.9 402.5 L610.7 403.3 L612.5 404.2 L614.3 405.0 L616.1 405.9 L618.0 406.7 L619.8 407.5 L621.6 408.3 L623.5 409.1 L625.3 409.9 L627.2 410.7 L629.0 411.5 L630.9 412.2 L632.7 413.0 L634.6 413.8 L636.4 414.5 L638.3 415.2 L640.2 415.9 L642.0 416.7 L643.9 417.4 L645.8 418.1 L647.7 418.8 L649.6 419.5 L651.5 420.1 L653.4 420.8 L655.2 421.4 L657.1 422.1 L659.0 422.7 L661.0 423.4 L662.9 424.0 L664.8 424.6 L666.7 425.2 L668.6 425.8 L670.5 426.4 L672.4 426.9 L674.4 427.5 L676.3 428.1 L678.2 428.6 L680.1 429.2 L682.1 429.7 L684.0 430.2 L686.0 430.8 L687.9 431.3 L689.8 431.8 L691.8 432.3 L693.7 432.8 L695.7 433.3 L697.6 433.8 L699.6 434.3 L701.5 434.8 L703.5 435.2 L705.4 435.7 L707.4 436.2 L709.3 436.6 L711.3 437.1 L713.2 437.6 L715.2 438.0 L717.1 438.5 L719.1 438.9 L721.1 439.4 L723.0 439.8 L725.0 440.3 L726.9 440.7 L728.9 441.1 L730.9 441.6 L732.8 442.0 L734.8 442.5 L736.7 442.9 L738.7 443.4 L740.6 443.8 L742.6 444.2 L744.5 444.7 L746.5 445.1 L748.5 445.6 L750.4 446.0" stroke="#000000" stroke-dasharray="4.7 2.1"/>
<path d="M132.5 206.1 L133.1 208.0 L133.6 209.9 L134.1 211.9 L134.6 213.8 L135.0 215.8 L135.4 217.8 L135.9 219.7 L136.3 221.7 L136.8 223.7 L137.2 225.6 L137.7 227.5 L138.3 229.4 L138.9 231.3 L139.6 233.2 L140.4 235.1 L141.3 236.9 L142.6 238.6 L144.1 239.7 L146.0 240.3 L148.1 240.6 L150.1 240.7 L152.1 240.3 L153.8 239.3 L155.5 238.2 L157.1 237.0 L158.8 235.9 L160.5 234.8 L162.2 233.8 L163.9 232.7 L165.5 231.7 L167.2 230.6 L168.9 229.5 L170.6 228.5 L172.3 227.4 L174.0 226.4 L175.7 225.3 L177.4 224.3 L179.1 223.2 L180.8 222.2 L182.5 221.1 L184.2 220.1 L185.9 219.0 L187.7 217.9 L189.4 216.9 L191.1 215.8 L192.8 214.8 L194.5 213.7 L196.2 212.6 L197.9 211.6 L199.6 210.5 L201.3 209.4 L203.0 208.3 L204.7 207.3 L206.4 206.2 L208.1 205.1 L209.8 204.0 L211.5 202.9 L213.2 201.8 L214.9 200.7 L216.6 199.7 L218.3 198.6 L219.9 197.4 L221.6 196.3 L223.3 195.2 L225.0 194.1 L226.6 193.0 L228.3 191.9 L230.0 190.8 L231.6 189.6 L233.3 188.5 L234.9 187.4 L236.6 186.2 L238.2 185.1 L239.8 183.9 L241.4 182.8 L243.1 181.6 L244.7 180.5 L246.3 179.3 L247.9 178.1 L249.5 176.9 L251.1 175.8 L252.7 174.6 L254.3 173.4 L255.9 172.2 L257.5 171.0 L259.1 169.8 L260.7 168.6 L262.3 167.4 L263.9 166.2 L265.5 165.0 L267.1 163.8 L268.7 162.6 L270.2 161.4 L271.9 160.2 L273.5 159.0 L275.1 157.8 L276.7 156.6 L278.3 155.4 L279.9 154.2 L281.5 152.9 L283.2 151.7 L284.8 150.5 L286.4 149.3 L288.1 148.1 L289.7 146.9 L291.4 145.7 L293.1 144.5 L294.8 143.3 L296.4 142.2 L298.1 141.0 L299.9 140.0 L301.6 138.9 L303.3 137.9 L305.1 137.0 L306.9 136.1 L308.7 135.3 L310.5 134.6 L312.4 133.9 L314.2 133.4 L316.1 132.9 L318.0 132.6 L320.0 132.3 L321.9 132.2 L323.9 132.1 L325.9 132.2 L327.9 132.3 L329.9 132.5 L331.9 132.8 L333.9 133.2 L335.9 133.6 L337.8 134.1 L339.8 134.6 L341.7 135.2 L343.6 135.9 L345.5 136.6 L347.4 137.4 L349.2 138.2 L351.1 139.0 L352.9 139.9 L354.6 140.8 L356.4 141.7 L358.1 142.7 L359.9 143.8 L361.6 144.8 L363.3 145.9 L364.9 147.0 L366.6 148.2 L368.2 149.3 L369.9 150.5 L371.5 151.7 L373.1 152.9 L374.6 154.2 L376.2 155.4 L377.7 156.7 L379.3 158.0 L380.8 159.3 L382.3 160.7 L383.7 162.0 L385.2 163.4 L386.6 164.8 L388.0 166.2 L389.4 167.6 L390.8 169.1 L392.2 170.5 L393.5 172.0 L394.8 173.5 L396.1 175.0 L397.4 176.6 L398.6 178.1 L399.9 179.7 L401.1 181.3 L402.3 182.9 L403.4 184.5 L404.6 186.1 L405.7 187.8 L406.8 189.5 L407.9 191.1 L409.0 192.8 L410.1 194.5 L411.1 196.2 L412.1 198.0 L413.2 199.7 L414.2 201.4 L415.1 203.2 L416.1 205.0 L417.1 206.7 L418.0 208.5 L418.9 210.3 L419.9 212.1 L420.8 213.9 L421.7 215.7 L422.6 217.5 L423.5 219.3 L424.3 221.1 L425.2 222.9 L426.1 224.7 L426.9 226.5 L427.8 228.4 L428.6 230.2 L429.5 232.0 L430.3 233.8 L431.1 235.7 L432.0 237.5 L432.8 239.3 L433.7 241.1 L434.5 242.9 L435.3 244.8 L436.2 246.6 L437.0 248.4 L437.9 250.2 L438.7 252.0 L439.6 253.8 L440.5 255.6 L441.3 257.4 L442.2 259.2 L443.1 261.0 L444.0 262.8 L444.9 264.6 L445.8 266.3 L446.8 268.1 L447.7 269.9 L448.7 271.6 L449.6 273.4 L450.6 275.1 L451.6 276.8 L452.6 278.5 L453.7 280.2 L454.7 281.9 L455.8 283.6 L456.8 285.3 L457.9 287.0 L459.0 288.7 L460.1 290.4 L461.2 292.0 L462.4 293.7 L463.5 295.3 L464.6 297.0 L465.8 298.6 L466.9 300.2 L468.1 301.9 L469.3 303.5 L470.5 305.1 L471.7 306.7 L472.9 308.3 L474.1 309.9 L475.4 311.5 L476.6 313.1 L477.8 314.6 L479.1 316.2 L480.3 317.8 L481.6 319.4 L482.9 320.9 L484.1 322.5 L485.4 324.1 L486.7 325.6 L488.0 327.1 L489.3 328.7 L490.6 330.2 L491.9 331.7 L493.2 333.2 L494.6 334.7 L495.9 336.2 L497.3 337.7 L498.7 339.1 L500.1 340.6 L501.4 342.0 L502.9 343.4 L504.3 344.8 L505.8 346.1 L507.2 347.5 L508.7 348.8 L510.2 350.1 L511.7 351.4 L513.2 352.7 L514.8 353.9 L516.4 355.1 L518.0 356.4 L519.6 357.6 L521.2 358.7 L522.8 359.9 L524.5 361.0 L526.1 362.1 L527.8 363.2 L529.5 364.3 L531.2 365.4 L532.9 366.5 L534.6 367.5 L536.3 368.6 L538.0 369.6 L539.7 370.6 L541.5 371.7 L543.2 372.7 L545.0 373.7 L546.7 374.7 L548.5 375.7 L550.2 376.7 L552.0 377.7 L553.7 378.7 L555.5 379.7 L557.2 380.7 L559.0 381.7 L560.7 382.7 L562.5 383.6 L564.2 384.6 L566.0 385.6 L567.8 386.6 L569.5 387.6 L571.3 388.6 L573.0 389.5 L574.8 390.5 L576.5 391.5 L578.3 392.4 L580.1 393.4 L581.8 394.3 L583.6 395.2 L585.4 396.1 L587.2 397.1 L588.9 397.9 L590.7 398.8 L592.5 399.7 L594.3 400.6 L596.1 401.4 L597.9 402.3 L599.8 403.1 L601.6 403.9 L603.4 404.7 L605.2 405.5 L607.1 406.2 L608.9 407.0 L610.8 407.7 L612.7 408.4 L614.5 409.1 L616.4 409.8 L618.3 410.5 L620.2 411.1 L622.1 411.8 L624.0 412.4 L625.9 413.0 L627.8 413.6 L629.7 414.2 L631.7 414.8 L633.6 415.4 L635.5 416.0 L637.5 416.5 L639.4 417.1 L641.3 417.6 L643.3 418.2 L645.2 418.7 L647.2 419.2 L649.1 419.7 L651.0 420.2 L653.0 420.8 L655.0 421.3 L656.9 421.8 L658.9 422.3 L660.8 422.8 L662.7 423.3 L664.7 423.8 L666.6 424.3 L668.6 424.8 L670.5 425.3 L672.5 425.8 L674.4 426.3 L676.4 426.8 L678.3 427.3 L680.2 427.8 L682.2 428.3 L684.1 428.8 L686.0 429.3 L688.0 429.8 L689.9 430.3 L691.9 430.8 L693.8 431.3 L695.7 431.8 L697.7 432.3 L699.6 432.8 L701.6 433.2 L703.5 433.7 L705.4 434.2 L707.4 434.7 L709.3 435.2 L711.3 435.6 L713.2 436.1 L715.1 436.6 L717.1 437.1 L719.0 437.5 L721.0 438.0 L722.9 438.4 L724.9 438.9 L726.8 439.4 L728.8 439.8 L730.8 440.3 L732.7 440.7 L734.7 441.1 L736.6 441.6 L738.6 442.0 L740.5 442.4 L742.5 442.9 L744.5 443.3 L746.5 443.7 L748.4 444.1 L750.4 444.5" stroke="#0000FF"/>
<path d="M132.5 206.1 L133.1 208.0 L133.6 209.9 L134.1 211.9 L134.6 213.8 L135.0 215.8 L135.5 217.8 L135.9 219.8 L136.3 221.7 L136.8 223.7 L137.3 225.6 L137.8 227.6 L138.3 229.5 L138.9 231.4 L139.6 233.2 L140.5 235.1 L141.5 236.9 L142.7 238.6 L144.3 239.7 L146.3 240.1 L148.3 239.9 L150.3 239.4 L152.1 238.5 L153.8 237.4 L155.4 236.2 L156.8 234.8 L158.2 233.3 L159.6 231.8 L160.8 230.3 L162.1 228.7 L163.4 227.1 L164.6 225.6 L165.9 224.0 L167.2 222.4 L168.4 220.9 L169.7 219.3 L170.9 217.7 L172.2 216.2 L173.5 214.6 L174.8 213.1 L176.0 211.5 L177.3 209.9 L178.5 208.4 L179.8 206.8 L181.1 205.2 L182.3 203.7 L183.6 202.1 L184.9 200.6 L186.1 199.0 L187.4 197.5 L188.7 195.9 L189.9 194.3 L191.2 192.8 L192.4 191.2 L193.7 189.7 L195.0 188.1 L196.2 186.6 L197.5 185.0 L198.8 183.4 L200.0 181.9 L201.3 180.3 L202.5 178.8 L203.8 177.2 L205.0 175.6 L206.3 174.1 L207.6 172.5 L208.8 170.9 L210.1 169.4 L211.3 167.8 L212.6 166.2 L213.8 164.7 L215.1 163.1 L216.3 161.5 L217.6 160.0 L218.8 158.4 L220.1 156.8 L221.3 155.2 L222.6 153.6 L223.8 152.1 L225.1 150.5 L226.3 148.9 L227.5 147.3 L228.8 145.7 L230.0 144.1 L231.3 142.5 L232.5 140.9 L233.7 139.3 L235.0 137.7 L236.2 136.1 L237.4 134.5 L238.7 132.9 L239.9 131.3 L241.2 129.8 L242.5 128.2 L243.8 126.7 L245.1 125.1 L246.4 123.6 L247.7 122.1 L249.1 120.6 L250.5 119.2 L251.9 117.8 L253.3 116.3 L254.8 115.0 L256.2 113.7 L257.8 112.3 L259.3 111.1 L260.9 109.9 L262.5 108.7 L264.2 107.5 L265.9 106.5 L267.6 105.4 L269.4 104.5 L271.2 103.6 L273.0 102.7 L274.8 102.0 L276.7 101.4 L278.6 100.8 L280.5 100.4 L282.5 100.0 L284.4 99.8 L286.4 99.7 L288.4 99.7 L290.4 99.8 L292.3 100.0 L294.3 100.3 L296.3 100.7 L298.3 101.1 L300.3 101.6 L302.3 102.2 L304.3 102.7 L306.3 103.4 L308.2 104.0 L310.2 104.7 L312.1 105.5 L314.0 106.2 L315.9 107.0 L317.8 107.8 L319.6 108.6 L321.4 109.4 L323.3 110.3 L325.1 111.2 L326.8 112.2 L328.5 113.2 L330.2 114.2 L331.9 115.2 L333.6 116.3 L335.2 117.5 L336.8 118.6 L338.4 119.8 L339.9 121.1 L341.4 122.4 L342.8 123.7 L344.3 125.1 L345.7 126.5 L347.1 127.9 L348.4 129.4 L349.8 130.8 L351.1 132.4 L352.4 133.9 L353.7 135.4 L355.0 137.0 L356.2 138.6 L357.5 140.2 L358.7 141.8 L360.0 143.4 L361.2 145.0 L362.4 146.6 L363.6 148.3 L364.8 149.9 L366.0 151.5 L367.2 153.2 L368.4 154.8 L369.6 156.4 L370.8 158.0 L371.9 159.7 L373.1 161.3 L374.3 162.9 L375.4 164.6 L376.6 166.2 L377.8 167.9 L378.9 169.5 L380.1 171.1 L381.2 172.8 L382.3 174.4 L383.5 176.1 L384.6 177.7 L385.7 179.4 L386.8 181.1 L387.9 182.7 L389.1 184.4 L390.1 186.0 L391.2 187.7 L392.3 189.4 L393.4 191.1 L394.5 192.7 L395.6 194.4 L396.6 196.1 L397.7 197.8 L398.8 199.5 L399.8 201.2 L400.9 202.9 L401.9 204.6 L402.9 206.3 L404.0 208.0 L405.0 209.8 L406.0 211.5 L407.0 213.2 L408.0 215.0 L409.0 216.7 L410.0 218.4 L411.0 220.2 L412.0 221.9 L413.0 223.7 L413.9 225.5 L414.9 227.2 L415.9 229.0 L416.9 230.8 L417.8 232.5 L418.8 234.3 L419.8 236.1 L420.7 237.8 L421.7 239.6 L422.7 241.3 L423.6 243.1 L424.6 244.9 L425.6 246.6 L426.6 248.4 L427.6 250.2 L428.5 251.9 L429.5 253.7 L430.5 255.4 L431.5 257.1 L432.5 258.9 L433.5 260.6 L434.6 262.3 L435.6 264.1 L436.6 265.8 L437.7 267.5 L438.7 269.2 L439.8 270.9 L440.9 272.6 L441.9 274.2 L443.0 275.9 L444.1 277.6 L445.2 279.2 L446.4 280.9 L447.5 282.5 L448.6 284.2 L449.8 285.8 L451.0 287.4 L452.1 289.0 L453.3 290.6 L454.5 292.2 L455.7 293.8 L456.9 295.4 L458.2 297.0 L459.4 298.6 L460.7 300.1 L461.9 301.7 L463.2 303.2 L464.5 304.8 L465.8 306.3 L467.1 307.8 L468.4 309.3 L469.7 310.9 L471.1 312.4 L472.4 313.9 L473.8 315.3 L475.1 316.8 L476.5 318.3 L477.9 319.8 L479.3 321.2 L480.7 322.6 L482.2 324.1 L483.6 325.5 L485.0 326.9 L486.5 328.3 L488.0 329.7 L489.4 331.1 L490.9 332.5 L492.4 333.9 L493.9 335.2 L495.4 336.6 L496.9 337.9 L498.5 339.2 L500.0 340.5 L501.6 341.8 L503.1 343.1 L504.7 344.3 L506.3 345.6 L507.8 346.8 L509.4 348.0 L511.0 349.2 L512.6 350.4 L514.2 351.6 L515.9 352.8 L517.5 354.0 L519.1 355.1 L520.8 356.3 L522.4 357.4 L524.0 358.5 L525.7 359.6 L527.4 360.7 L529.0 361.8 L530.7 362.9 L532.4 364.0 L534.1 365.1 L535.8 366.1 L537.5 367.2 L539.2 368.2 L540.9 369.2 L542.6 370.3 L544.3 371.3 L546.1 372.3 L547.8 373.3 L549.5 374.3 L551.3 375.3 L553.0 376.3 L554.8 377.3 L556.5 378.3 L558.3 379.3 L560.0 380.3 L561.8 381.2 L563.6 382.2 L565.4 383.1 L567.1 384.1 L568.9 385.0 L570.7 386.0 L572.5 386.9 L574.3 387.8 L576.1 388.7 L577.9 389.6 L579.7 390.5 L581.5 391.4 L583.3 392.3 L585.1 393.1 L587.0 394.0 L588.8 394.9 L590.6 395.7 L592.5 396.5 L594.3 397.3 L596.1 398.1 L598.0 398.9 L599.8 399.7 L601.7 400.5 L603.5 401.3 L605.4 402.0 L607.3 402.8 L609.1 403.5 L611.0 404.2 L612.9 404.9 L614.8 405.6 L616.6 406.3 L618.5 407.0 L620.4 407.7 L622.3 408.4 L624.2 409.0 L626.1 409.7 L628.0 410.3 L629.9 411.0 L631.8 411.6 L633.7 412.2 L635.6 412.8 L637.5 413.4 L639.5 414.0 L641.4 414.6 L643.3 415.2 L645.2 415.8 L647.1 416.4 L649.0 416.9 L651.0 417.5 L652.9 418.1 L654.8 418.6 L656.8 419.2 L658.7 419.7 L660.6 420.3 L662.6 420.8 L664.5 421.4 L666.4 421.9 L668.4 422.4 L670.3 422.9 L672.2 423.5 L674.2 424.0 L676.1 424.5 L678.1 425.0 L680.0 425.5 L682.0 426.0 L683.9 426.6 L685.9 427.1 L687.8 427.5 L689.8 428.0 L691.7 428.5 L693.7 429.0 L695.6 429.5 L697.6 430.0 L699.5 430.5 L701.5 430.9 L703.4 431.4 L705.4 431.9 L707.3 432.4 L709.3 432.8 L711.2 433.3 L713.2 433.8 L715.2 434.2 L717.1 434.7 L719.1 435.2 L721.0 435.6 L723.0 436.1 L725.0 436.5 L726.9 437.0 L728.9 437.4 L730.8 437.9 L732.8 438.3 L734.7 438.8 L736.7 439.2 L738.6 439.7 L740.6 440.1 L742.6 440.6 L744.5 441.0 L746.5 441.4 L748.4 441.9 L750.4 442.3" stroke="#808080"/>
<path d="M132.5 206.1 L133.1 208.0 L133.6 209.9 L134.1 211.9 L134.6 213.8 L135.0 215.8 L135.4 217.8 L135.9 219.7 L136.3 221.7 L136.8 223.7 L137.2 225.6 L137.8 227.5 L138.3 229.4 L138.9 231.3 L139.6 233.2 L140.4 235.1 L141.4 236.9 L142.6 238.6 L144.2 239.7 L146.2 240.2 L148.1 239.8 L149.8 238.7 L151.2 237.2 L152.4 235.6 L153.6 233.9 L154.6 232.2 L155.5 230.5 L156.5 228.7 L157.4 226.9 L158.3 225.1 L159.1 223.2 L159.9 221.4 L160.7 219.5 L161.4 217.7 L162.1 215.8 L162.8 213.9 L163.5 212.0 L164.2 210.2 L164.8 208.3 L165.5 206.4 L166.2 204.5 L166.9 202.6 L167.6 200.8 L168.3 198.9 L169.0 197.0 L169.7 195.1 L170.4 193.2 L171.1 191.4 L171.8 189.5 L172.5 187.6 L173.2 185.7 L173.9 183.9 L174.7 182.0 L175.4 180.1 L176.1 178.3 L176.9 176.4 L177.6 174.5 L178.3 172.7 L179.1 170.8 L179.8 169.0 L180.6 167.1 L181.4 165.2 L182.2 163.4 L182.9 161.5 L183.7 159.7 L184.5 157.8 L185.3 156.0 L186.1 154.2 L186.9 152.3 L187.7 150.5 L188.5 148.7 L189.3 146.8 L190.1 145.0 L191.0 143.2 L191.8 141.4 L192.7 139.5 L193.5 137.7 L194.4 135.9 L195.2 134.1 L196.1 132.3 L197.0 130.5 L197.9 128.7 L198.8 126.9 L199.7 125.1 L200.6 123.3 L201.5 121.6 L202.5 119.8 L203.4 118.0 L204.4 116.3 L205.3 114.5 L206.3 112.8 L207.3 111.0 L208.3 109.3 L209.4 107.6 L210.4 105.9 L211.5 104.2 L212.5 102.5 L213.6 100.8 L214.7 99.1 L215.8 97.4 L217.0 95.8 L218.2 94.1 L219.3 92.5 L220.5 90.9 L221.8 89.3 L223.0 87.7 L224.3 86.2 L225.7 84.7 L227.0 83.2 L228.4 81.8 L229.9 80.5 L231.4 79.2 L233.0 77.9 L234.6 76.7 L236.2 75.6 L238.0 74.5 L239.8 73.5 L241.6 72.7 L243.5 71.8 L245.4 71.1 L247.3 70.5 L249.2 70.0 L251.2 69.6 L253.2 69.3 L255.1 69.2 L257.1 69.1 L259.1 69.2 L261.0 69.3 L262.9 69.6 L264.9 69.9 L266.8 70.4 L268.8 70.9 L270.7 71.4 L272.6 72.0 L274.6 72.7 L276.5 73.3 L278.4 74.0 L280.3 74.7 L282.2 75.5 L284.1 76.2 L286.0 77.0 L287.9 77.8 L289.7 78.6 L291.6 79.5 L293.4 80.3 L295.2 81.3 L297.0 82.2 L298.7 83.2 L300.4 84.2 L302.1 85.3 L303.8 86.4 L305.4 87.6 L306.9 88.8 L308.5 90.0 L310.0 91.3 L311.4 92.6 L312.9 94.0 L314.3 95.4 L315.7 96.8 L317.0 98.3 L318.4 99.8 L319.7 101.3 L321.0 102.8 L322.2 104.4 L323.5 105.9 L324.8 107.5 L326.0 109.1 L327.2 110.7 L328.4 112.3 L329.6 113.9 L330.8 115.5 L332.0 117.2 L333.2 118.8 L334.4 120.4 L335.6 122.0 L336.8 123.7 L337.9 125.3 L339.1 126.9 L340.3 128.6 L341.4 130.2 L342.6 131.8 L343.8 133.4 L344.9 135.1 L346.1 136.7 L347.2 138.4 L348.4 140.0 L349.5 141.7 L350.7 143.3 L351.8 144.9 L353.0 146.6 L354.1 148.2 L355.3 149.8 L356.4 151.5 L357.6 153.1 L358.7 154.8 L359.9 156.4 L361.0 158.0 L362.2 159.7 L363.4 161.3 L364.5 162.9 L365.7 164.5 L366.9 166.1 L368.1 167.8 L369.3 169.4 L370.4 171.0 L371.6 172.6 L372.8 174.2 L374.0 175.8 L375.2 177.4 L376.4 179.0 L377.6 180.6 L378.9 182.2 L380.1 183.8 L381.3 185.4 L382.5 187.0 L383.7 188.6 L384.9 190.2 L386.1 191.8 L387.4 193.4 L388.6 194.9 L389.8 196.6 L391.0 198.1 L392.2 199.7 L393.4 201.3 L394.6 202.9 L395.8 204.5 L397.1 206.1 L398.2 207.7 L399.5 209.3 L400.7 210.9 L401.9 212.5 L403.1 214.2 L404.2 215.8 L405.4 217.4 L406.6 219.0 L407.8 220.6 L409.0 222.2 L410.1 223.9 L411.3 225.5 L412.5 227.1 L413.6 228.8 L414.8 230.4 L415.9 232.1 L417.0 233.7 L418.2 235.4 L419.3 237.0 L420.4 238.7 L421.5 240.4 L422.6 242.0 L423.8 243.7 L424.9 245.4 L426.0 247.1 L427.1 248.7 L428.2 250.4 L429.3 252.1 L430.4 253.8 L431.5 255.4 L432.6 257.1 L433.7 258.8 L434.8 260.4 L436.0 262.1 L437.1 263.8 L438.2 265.4 L439.4 267.1 L440.5 268.7 L441.6 270.4 L442.8 272.0 L443.9 273.6 L445.1 275.2 L446.3 276.9 L447.5 278.5 L448.7 280.1 L449.9 281.7 L451.1 283.3 L452.3 284.8 L453.6 286.4 L454.8 288.0 L456.1 289.5 L457.4 291.1 L458.7 292.6 L460.0 294.1 L461.3 295.6 L462.6 297.1 L464.0 298.6 L465.3 300.1 L466.7 301.6 L468.1 303.0 L469.4 304.5 L470.8 306.0 L472.2 307.4 L473.6 308.8 L475.1 310.3 L476.5 311.7 L477.9 313.1 L479.4 314.5 L480.8 315.9 L482.2 317.3 L483.7 318.7 L485.2 320.1 L486.6 321.4 L488.1 322.8 L489.6 324.2 L491.1 325.5 L492.6 326.9 L494.1 328.2 L495.6 329.6 L497.1 330.9 L498.6 332.2 L500.1 333.5 L501.6 334.8 L503.1 336.1 L504.7 337.4 L506.2 338.7 L507.7 340.0 L509.3 341.2 L510.9 342.5 L512.4 343.7 L514.0 345.0 L515.6 346.2 L517.2 347.4 L518.8 348.6 L520.4 349.8 L522.0 351.0 L523.6 352.1 L525.3 353.3 L526.9 354.4 L528.6 355.5 L530.2 356.6 L531.9 357.7 L533.6 358.8 L535.3 359.9 L537.0 360.9 L538.7 362.0 L540.4 363.0 L542.1 364.1 L543.9 365.1 L545.6 366.1 L547.3 367.1 L549.1 368.1 L550.8 369.1 L552.6 370.1 L554.3 371.0 L556.1 372.0 L557.9 373.0 L559.6 373.9 L561.4 374.9 L563.2 375.8 L565.0 376.8 L566.7 377.7 L568.5 378.6 L570.3 379.6 L572.1 380.5 L573.9 381.4 L575.6 382.4 L577.4 383.3 L579.2 384.2 L581.0 385.1 L582.8 386.0 L584.6 386.9 L586.4 387.9 L588.1 388.8 L589.9 389.6 L591.7 390.5 L593.5 391.4 L595.3 392.3 L597.1 393.1 L598.9 394.0 L600.8 394.9 L602.6 395.7 L604.4 396.6 L606.2 397.4 L608.0 398.2 L609.9 399.0 L611.7 399.8 L613.5 400.6 L615.4 401.4 L617.2 402.1 L619.1 402.9 L620.9 403.6 L622.8 404.4 L624.6 405.1 L626.5 405.8 L628.4 406.5 L630.3 407.1 L632.2 407.8 L634.1 408.5 L636.0 409.1 L637.9 409.8 L639.8 410.4 L641.7 411.0 L643.6 411.6 L645.5 412.2 L647.4 412.8 L649.4 413.4 L651.3 414.0 L653.2 414.6 L655.1 415.1 L657.0 415.7 L659.0 416.3 L660.9 416.8 L662.9 417.4 L664.8 417.9 L666.7 418.4 L668.7 419.0 L670.6 419.5 L672.5 420.0 L674.5 420.6 L676.4 421.1 L678.4 421.6 L680.3 422.2 L682.2 422.7 L684.2 423.2 L686.1 423.7 L688.0 424.3 L690.0 424.8 L691.9 425.3 L693.8 425.8 L695.8 426.4 L697.7 426.9 L699.6 427.4 L701.6 427.9 L703.5 428.4 L705.5 428.9 L707.4 429.4 L709.3 429.9 L711.3 430.4 L713.2 430.9 L715.1 431.4 L717.1 431.9 L719.0 432.4 L721.0 432.8 L722.9 433.3 L724.9 433.8 L726.8 434.2 L728.8 434.7 L730.7 435.1 L732.7 435.6 L734.6 436.0 L736.6 436.4 L738.6 436.9 L740.5 437.3 L742.5 437.7 L744.5 438.1 L746.4 438.4 L748.4 438.8 L750.4 439.2" stroke="#FF0000"/>
<path d="M132.5 206.1 L133.1 208.0 L133.7 209.9 L134.2 211.9 L134.6 213.8 L135.1 215.8 L135.5 217.8 L136.0 219.7 L136.4 221.7 L136.9 223.6 L137.4 225.6 L137.9 227.5 L138.5 229.4 L139.1 231.3 L139.8 233.1 L140.7 235.0 L141.7 236.8 L142.9 238.4 L144.7 239.4 L146.7 239.5 L148.6 238.8 L150.1 237.5 L151.3 235.8 L152.4 234.1 L153.4 232.3 L154.2 230.5 L154.9 228.7 L155.5 226.7 L156.0 224.8 L156.4 222.8 L156.9 220.9 L157.3 218.9 L157.7 216.9 L158.1 215.0 L158.5 213.0 L158.9 211.0 L159.2 209.1 L159.6 207.1 L159.9 205.1 L160.2 203.1 L160.5 201.2 L160.8 199.2 L161.0 197.2 L161.3 195.2 L161.6 193.2 L161.8 191.2 L162.0 189.2 L162.2 187.2 L162.5 185.2 L162.7 183.2 L162.9 181.3 L163.1 179.3 L163.3 177.3 L163.5 175.3 L163.6 173.3 L163.8 171.3 L164.0 169.3 L164.2 167.3 L164.3 165.3 L164.5 163.3 L164.7 161.3 L164.9 159.3 L165.1 157.3 L165.2 155.3 L165.4 153.3 L165.6 151.3 L165.8 149.3 L166.0 147.3 L166.2 145.3 L166.3 143.3 L166.6 141.3 L166.8 139.3 L167.0 137.3 L167.2 135.3 L167.5 133.3 L167.7 131.3 L168.0 129.3 L168.3 127.3 L168.6 125.4 L168.8 123.4 L169.2 121.4 L169.5 119.4 L169.8 117.5 L170.2 115.5 L170.6 113.5 L171.0 111.6 L171.4 109.6 L171.9 107.7 L172.4 105.7 L172.9 103.8 L173.4 101.8 L173.9 99.9 L174.5 98.0 L175.1 96.1 L175.7 94.2 L176.4 92.2 L177.0 90.4 L177.8 88.5 L178.5 86.6 L179.3 84.8 L180.1 82.9 L180.9 81.1 L181.8 79.3 L182.7 77.5 L183.7 75.8 L184.6 74.0 L185.7 72.3 L186.7 70.6 L187.8 69.0 L189.0 67.3 L190.2 65.7 L191.4 64.2 L192.7 62.6 L194.0 61.1 L195.3 59.7 L196.7 58.2 L198.2 56.9 L199.7 55.6 L201.2 54.3 L202.8 53.1 L204.5 52.0 L206.2 50.9 L207.9 49.9 L209.7 49.0 L211.5 48.1 L213.3 47.3 L215.2 46.6 L217.1 45.9 L219.1 45.4 L221.0 44.9 L223.0 44.5 L225.0 44.2 L227.0 44.0 L228.9 43.9 L230.9 43.9 L232.9 44.0 L234.9 44.2 L236.9 44.4 L238.8 44.7 L240.8 45.1 L242.8 45.6 L244.7 46.1 L246.6 46.8 L248.5 47.4 L250.4 48.1 L252.3 48.9 L254.2 49.7 L256.0 50.5 L257.8 51.4 L259.6 52.3 L261.4 53.3 L263.1 54.3 L264.8 55.4 L266.5 56.4 L268.2 57.6 L269.8 58.7 L271.4 59.9 L273.0 61.1 L274.6 62.4 L276.1 63.7 L277.6 65.0 L279.1 66.4 L280.5 67.8 L281.9 69.2 L283.3 70.6 L284.7 72.1 L286.0 73.5 L287.3 75.0 L288.6 76.6 L289.9 78.1 L291.2 79.6 L292.4 81.2 L293.7 82.8 L294.9 84.4 L296.1 86.0 L297.3 87.6 L298.5 89.2 L299.8 90.8 L300.9 92.4 L302.1 94.0 L303.4 95.6 L304.6 97.2 L305.8 98.9 L307.0 100.5 L308.2 102.1 L309.4 103.7 L310.7 105.2 L311.9 106.8 L313.1 108.4 L314.4 110.0 L315.7 111.5 L316.9 113.1 L318.2 114.6 L319.5 116.1 L320.8 117.7 L322.1 119.2 L323.4 120.7 L324.8 122.2 L326.1 123.7 L327.4 125.2 L328.7 126.7 L330.1 128.2 L331.4 129.7 L332.8 131.2 L334.1 132.6 L335.5 134.1 L336.9 135.6 L338.2 137.0 L339.6 138.5 L341.0 139.9 L342.4 141.3 L343.8 142.8 L345.2 144.2 L346.6 145.7 L348.0 147.1 L349.4 148.5 L350.8 149.9 L352.2 151.4 L353.6 152.8 L355.1 154.2 L356.5 155.6 L357.9 157.0 L359.3 158.4 L360.8 159.8 L362.2 161.2 L363.6 162.7 L365.0 164.1 L366.4 165.5 L367.9 166.9 L369.3 168.3 L370.7 169.7 L372.1 171.2 L373.5 172.6 L374.9 174.0 L376.4 175.4 L377.8 176.8 L379.2 178.3 L380.6 179.7 L381.9 181.2 L383.3 182.6 L384.7 184.1 L386.1 185.5 L387.4 187.0 L388.8 188.4 L390.2 189.9 L391.5 191.4 L392.8 192.9 L394.2 194.4 L395.5 195.9 L396.8 197.4 L398.1 198.9 L399.4 200.4 L400.7 202.0 L402.0 203.5 L403.2 205.1 L404.5 206.6 L405.8 208.2 L407.0 209.7 L408.2 211.3 L409.5 212.9 L410.7 214.5 L411.9 216.0 L413.1 217.6 L414.4 219.2 L415.6 220.8 L416.8 222.4 L418.0 224.0 L419.2 225.6 L420.4 227.2 L421.6 228.9 L422.8 230.5 L424.0 232.1 L425.2 233.7 L426.4 235.3 L427.5 236.9 L428.7 238.6 L429.9 240.2 L431.1 241.8 L432.3 243.4 L433.5 245.0 L434.7 246.6 L435.9 248.2 L437.1 249.8 L438.3 251.4 L439.5 253.1 L440.7 254.7 L441.9 256.2 L443.1 257.9 L444.3 259.4 L445.6 261.0 L446.8 262.6 L448.0 264.2 L449.2 265.8 L450.5 267.3 L451.7 268.9 L453.0 270.4 L454.3 272.0 L455.5 273.6 L456.8 275.1 L458.1 276.6 L459.4 278.2 L460.6 279.7 L461.9 281.2 L463.2 282.7 L464.5 284.3 L465.9 285.8 L467.2 287.3 L468.5 288.8 L469.8 290.3 L471.1 291.8 L472.5 293.3 L473.8 294.8 L475.2 296.2 L476.5 297.7 L477.9 299.2 L479.2 300.7 L480.6 302.1 L482.0 303.6 L483.3 305.1 L484.7 306.5 L486.1 308.0 L487.5 309.4 L488.9 310.9 L490.3 312.3 L491.7 313.7 L493.1 315.2 L494.5 316.6 L495.9 318.0 L497.3 319.4 L498.8 320.9 L500.2 322.3 L501.6 323.7 L503.1 325.1 L504.6 326.4 L506.0 327.8 L507.5 329.2 L509.0 330.6 L510.4 331.9 L511.9 333.3 L513.4 334.6 L515.0 335.9 L516.5 337.2 L518.0 338.5 L519.5 339.8 L521.1 341.1 L522.6 342.4 L524.2 343.6 L525.7 344.9 L527.3 346.1 L528.9 347.3 L530.5 348.5 L532.1 349.7 L533.7 350.9 L535.3 352.1 L537.0 353.2 L538.6 354.4 L540.3 355.5 L541.9 356.6 L543.6 357.7 L545.3 358.8 L546.9 359.9 L548.6 361.0 L550.3 362.1 L552.0 363.1 L553.7 364.2 L555.4 365.2 L557.1 366.2 L558.9 367.3 L560.6 368.3 L562.3 369.3 L564.1 370.3 L565.8 371.3 L567.6 372.2 L569.3 373.2 L571.1 374.2 L572.8 375.1 L574.6 376.1 L576.4 377.0 L578.1 377.9 L579.9 378.9 L581.7 379.8 L583.5 380.7 L585.3 381.6 L587.1 382.5 L588.9 383.4 L590.7 384.3 L592.5 385.2 L594.3 386.0 L596.1 386.9 L597.9 387.8 L599.7 388.6 L601.5 389.4 L603.4 390.3 L605.2 391.1 L607.0 391.9 L608.8 392.8 L610.7 393.6 L612.5 394.4 L614.4 395.2 L616.2 396.0 L618.0 396.8 L619.9 397.6 L621.7 398.3 L623.6 399.1 L625.4 399.9 L627.3 400.6 L629.2 401.4 L631.0 402.1 L632.9 402.9 L634.8 403.6 L636.6 404.3 L638.5 405.0 L640.4 405.8 L642.2 406.4 L644.1 407.2 L646.0 407.9 L647.9 408.5 L649.8 409.2 L651.6 409.9 L653.5 410.6 L655.4 411.2 L657.3 411.9 L659.2 412.5 L661.1 413.2 L663.0 413.8 L664.9 414.4 L666.8 415.1 L668.7 415.7 L670.6 416.3 L672.6 416.9 L674.5 417.5 L676.4 418.1 L678.3 418.6 L680.2 419.2 L682.2 419.8 L684.1 420.3 L686.0 420.9 L687.9 421.4 L689.9 422.0 L691.8 422.5 L693.7 423.0 L695.7 423.5 L697.6 424.0 L699.6 424.5 L701.5 425.0 L703.5 425.5 L705.4 426.0 L707.3 426.5 L709.3 427.0 L711.2 427.4 L713.2 427.9 L715.1 428.4 L717.1 428.8 L719.1 429.3 L721.0 429.7 L723.0 430.2 L724.9 430.6 L726.9 431.1 L728.8 431.5 L730.8 431.9 L732.8 432.3 L734.7 432.8 L736.7 433.2 L738.6 433.6 L740.6 434.0 L742.6 434.4 L744.5 434.9 L746.5 435.3 L748.4 435.7 L750.4 436.1" stroke="#7B68EE"/>
<path d="M132.5 206.1 L133.1 208.0 L133.7 209.9 L134.2 211.9 L134.7 213.8 L135.2 215.8 L135.6 217.7 L136.1 219.7 L136.5 221.7 L137.0 223.6 L137.5 225.6 L138.1 227.5 L138.7 229.4 L139.3 231.2 L140.1 233.1 L141.0 234.9 L142.1 236.7 L143.4 238.2 L145.3 238.8 L147.3 238.6 L149.0 237.4 L150.2 235.7 L151.2 233.9 L152.1 232.2 L152.9 230.4 L153.6 228.5 L154.2 226.6 L154.8 224.7 L155.3 222.7 L155.8 220.7 L156.2 218.8 L156.6 216.8 L157.0 214.8 L157.3 212.8 L157.7 210.9 L158.0 208.9 L158.3 206.9 L158.7 204.9 L159.0 202.9 L159.2 201.0 L159.5 199.0 L159.8 197.0 L160.0 195.0 L160.3 193.0 L160.5 191.0 L160.7 189.0 L160.9 187.0 L161.1 185.0 L161.3 183.0 L161.5 181.1 L161.7 179.1 L161.8 177.1 L162.0 175.1 L162.2 173.1 L162.3 171.1 L162.4 169.1 L162.5 167.0 L162.7 165.0 L162.8 163.0 L162.9 161.0 L163.0 159.0 L163.1 157.0 L163.2 155.0 L163.3 153.0 L163.3 151.0 L163.4 149.0 L163.5 147.0 L163.6 145.0 L163.7 142.9 L163.7 140.9 L163.8 138.9 L163.9 136.9 L163.9 134.9 L164.0 132.9 L164.1 130.9 L164.1 128.9 L164.2 126.9 L164.3 124.8 L164.3 122.8 L164.4 120.8 L164.5 118.8 L164.6 116.8 L164.7 114.8 L164.8 112.8 L164.9 110.8 L165.1 108.8 L165.2 106.8 L165.4 104.8 L165.6 102.8 L165.8 100.8 L166.0 98.8 L166.2 96.8 L166.4 94.8 L166.7 92.9 L167.0 90.9 L167.3 88.9 L167.6 86.9 L167.9 85.0 L168.3 83.0 L168.7 81.0 L169.1 79.0 L169.6 77.1 L170.0 75.1 L170.5 73.2 L171.1 71.3 L171.6 69.3 L172.2 67.4 L172.9 65.5 L173.6 63.6 L174.3 61.7 L175.0 59.9 L175.8 58.0 L176.7 56.2 L177.6 54.4 L178.5 52.6 L179.5 50.9 L180.6 49.2 L181.7 47.5 L182.9 46.0 L184.3 44.5 L185.7 43.1 L187.4 41.9 L189.1 40.9 L191.0 39.9 L192.8 39.1 L194.7 38.3 L196.7 37.7 L198.6 37.1 L200.5 36.6 L202.4 36.2 L204.3 35.8 L206.3 35.6 L208.2 35.4 L210.2 35.2 L212.2 35.1 L214.2 35.1 L216.2 35.1 L218.2 35.1 L220.2 35.2 L222.2 35.4 L224.3 35.5 L226.3 35.8 L228.3 36.0 L230.4 36.4 L232.4 36.8 L234.4 37.2 L236.3 37.7 L238.3 38.2 L240.2 38.8 L242.1 39.5 L244.0 40.2 L245.8 41.0 L247.6 41.9 L249.4 42.8 L251.1 43.7 L252.8 44.7 L254.5 45.8 L256.1 46.9 L257.8 48.1 L259.4 49.2 L260.9 50.5 L262.5 51.7 L264.0 53.0 L265.5 54.3 L267.0 55.6 L268.5 57.0 L270.0 58.4 L271.4 59.7 L272.9 61.1 L274.3 62.5 L275.7 64.0 L277.1 65.4 L278.5 66.8 L279.9 68.3 L281.2 69.7 L282.6 71.2 L284.0 72.7 L285.3 74.2 L286.6 75.6 L288.0 77.1 L289.3 78.6 L290.6 80.1 L291.9 81.7 L293.3 83.2 L294.6 84.7 L295.9 86.2 L297.2 87.7 L298.5 89.3 L299.8 90.8 L301.1 92.3 L302.4 93.8 L303.7 95.4 L305.0 96.9 L306.3 98.4 L307.6 100.0 L308.9 101.5 L310.3 103.0 L311.6 104.5 L312.9 106.0 L314.2 107.5 L315.6 109.0 L316.9 110.5 L318.3 112.0 L319.6 113.4 L321.0 114.9 L322.4 116.4 L323.8 117.8 L325.1 119.3 L326.5 120.7 L327.9 122.1 L329.4 123.6 L330.8 125.0 L332.2 126.4 L333.6 127.8 L335.0 129.2 L336.4 130.7 L337.9 132.1 L339.3 133.4 L340.8 134.8 L342.2 136.2 L343.7 137.6 L345.1 139.0 L346.6 140.4 L348.0 141.8 L349.5 143.2 L350.9 144.5 L352.4 145.9 L353.9 147.3 L355.3 148.7 L356.8 150.0 L358.3 151.4 L359.7 152.8 L361.2 154.2 L362.7 155.5 L364.1 156.9 L365.6 158.3 L367.1 159.6 L368.6 161.0 L370.0 162.4 L371.5 163.8 L373.0 165.2 L374.4 166.5 L375.9 167.9 L377.3 169.3 L378.8 170.7 L380.2 172.1 L381.7 173.5 L383.1 174.9 L384.6 176.3 L386.0 177.7 L387.4 179.1 L388.9 180.5 L390.3 182.0 L391.7 183.4 L393.1 184.8 L394.5 186.3 L395.9 187.7 L397.2 189.2 L398.6 190.6 L400.0 192.1 L401.3 193.6 L402.7 195.1 L404.0 196.5 L405.4 198.0 L406.7 199.6 L408.0 201.1 L409.3 202.6 L410.6 204.1 L411.9 205.7 L413.1 207.2 L414.4 208.8 L415.6 210.3 L416.9 211.9 L418.1 213.5 L419.3 215.1 L420.6 216.7 L421.8 218.3 L423.0 219.8 L424.2 221.5 L425.4 223.1 L426.6 224.7 L427.8 226.3 L429.0 227.9 L430.2 229.5 L431.3 231.2 L432.5 232.8 L433.7 234.4 L434.9 236.1 L436.0 237.7 L437.2 239.3 L438.4 240.9 L439.6 242.6 L440.7 244.2 L441.9 245.8 L443.1 247.5 L444.2 249.1 L445.4 250.7 L446.6 252.4 L447.8 254.0 L449.0 255.6 L450.1 257.2 L451.3 258.9 L452.5 260.5 L453.7 262.1 L454.9 263.7 L456.1 265.3 L457.4 266.9 L458.6 268.5 L459.8 270.1 L461.0 271.6 L462.3 273.2 L463.5 274.8 L464.8 276.4 L466.0 277.9 L467.3 279.5 L468.6 281.1 L469.8 282.6 L471.1 284.1 L472.4 285.7 L473.7 287.2 L475.0 288.7 L476.3 290.2 L477.6 291.8 L478.9 293.3 L480.3 294.8 L481.6 296.3 L482.9 297.7 L484.3 299.2 L485.6 300.7 L487.0 302.2 L488.4 303.6 L489.8 305.1 L491.2 306.5 L492.6 308.0 L494.0 309.4 L495.4 310.8 L496.8 312.2 L498.2 313.6 L499.7 315.0 L501.1 316.4 L502.6 317.8 L504.1 319.2 L505.5 320.6 L507.0 321.9 L508.5 323.3 L510.0 324.6 L511.5 325.9 L513.0 327.3 L514.5 328.6 L516.0 329.9 L517.6 331.2 L519.1 332.5 L520.7 333.8 L522.2 335.1 L523.8 336.3 L525.4 337.6 L526.9 338.8 L528.5 340.1 L530.1 341.3 L531.7 342.5 L533.3 343.7 L534.9 344.9 L536.5 346.1 L538.2 347.3 L539.8 348.4 L541.4 349.6 L543.1 350.7 L544.7 351.9 L546.4 353.0 L548.0 354.1 L549.7 355.3 L551.4 356.4 L553.1 357.5 L554.8 358.6 L556.4 359.6 L558.1 360.7 L559.8 361.8 L561.5 362.8 L563.2 363.9 L565.0 364.9 L566.7 366.0 L568.4 367.0 L570.1 368.0 L571.9 369.0 L573.6 370.1 L575.3 371.1 L577.1 372.0 L578.8 373.0 L580.6 374.0 L582.3 375.0 L584.1 375.9 L585.9 376.9 L587.6 377.9 L589.4 378.8 L591.2 379.7 L592.9 380.7 L594.7 381.6 L596.5 382.5 L598.3 383.4 L600.1 384.3 L601.9 385.2 L603.7 386.1 L605.5 387.0 L607.3 387.9 L609.1 388.8 L610.9 389.6 L612.7 390.5 L614.5 391.3 L616.4 392.2 L618.2 393.0 L620.0 393.8 L621.8 394.6 L623.7 395.4 L625.5 396.2 L627.4 397.1 L629.2 397.8 L631.0 398.6 L632.9 399.4 L634.8 400.2 L636.6 400.9 L638.5 401.7 L640.4 402.4 L642.2 403.2 L644.1 403.9 L646.0 404.6 L647.8 405.3 L649.7 406.0 L651.6 406.8 L653.5 407.4 L655.4 408.1 L657.3 408.8 L659.2 409.5 L661.1 410.1 L663.0 410.8 L664.9 411.4 L666.8 412.1 L668.7 412.7 L670.6 413.3 L672.5 413.9 L674.4 414.6 L676.3 415.1 L678.2 415.7 L680.2 416.3 L682.1 416.9 L684.0 417.5 L686.0 418.0 L687.9 418.6 L689.8 419.1 L691.7 419.6 L693.7 420.2 L695.6 420.7 L697.6 421.2 L699.5 421.7 L701.4 422.2 L703.4 422.7 L705.3 423.2 L707.3 423.6 L709.2 424.1 L711.2 424.6 L713.1 425.1 L715.1 425.5 L717.0 426.0 L719.0 426.4 L721.0 426.9 L722.9 427.3 L724.9 427.7 L726.8 428.2 L728.8 428.6 L730.8 429.0 L732.7 429.4 L734.7 429.9 L736.6 430.3 L738.6 430.7 L740.6 431.1 L742.5 431.6 L744.5 432.0 L746.5 432.4 L748.4 432.8 L750.4 433.2" stroke="#808000"/>
<path d="M132.5 206.1 L133.1 208.0 L133.7 209.9 L134.3 211.8 L134.8 213.8 L135.2 215.7 L135.7 217.7 L136.2 219.7 L136.6 221.6 L137.1 223.6 L137.7 225.5 L138.2 227.4 L138.8 229.3 L139.5 231.1 L140.3 233.0 L141.3 234.8 L142.4 236.6 L143.9 237.8 L145.9 238.2 L147.8 237.5 L149.1 236.0 L150.2 234.2 L151.2 232.4 L152.0 230.6 L152.8 228.8 L153.4 226.9 L154.0 225.0 L154.5 223.0 L155.0 221.1 L155.4 219.1 L155.8 217.2 L156.2 215.2 L156.6 213.2 L157.0 211.2 L157.4 209.3 L157.7 207.3 L158.0 205.3 L158.3 203.3 L158.6 201.4 L158.9 199.4 L159.1 197.4 L159.3 195.4 L159.6 193.4 L159.8 191.4 L160.0 189.4 L160.2 187.4 L160.3 185.4 L160.5 183.4 L160.7 181.5 L160.8 179.5 L160.9 177.5 L161.1 175.5 L161.2 173.5 L161.3 171.5 L161.4 169.4 L161.5 167.4 L161.6 165.4 L161.6 163.4 L161.7 161.4 L161.8 159.4 L161.8 157.4 L161.9 155.4 L162.0 153.4 L162.0 151.4 L162.1 149.4 L162.2 147.4 L162.2 145.4 L162.3 143.4 L162.3 141.4 L162.4 139.4 L162.4 137.4 L162.5 135.4 L162.6 133.3 L162.7 131.3 L162.7 129.3 L162.8 127.3 L162.9 125.3 L162.9 123.3 L163.0 121.3 L163.1 119.3 L163.2 117.3 L163.3 115.3 L163.3 113.3 L163.4 111.3 L163.5 109.3 L163.6 107.3 L163.7 105.3 L163.8 103.3 L163.9 101.3 L164.0 99.3 L164.1 97.3 L164.2 95.3 L164.3 93.3 L164.4 91.3 L164.5 89.3 L164.6 87.3 L164.7 85.3 L164.8 83.3 L164.9 81.3 L165.0 79.3 L165.1 77.3 L165.2 75.3 L165.3 73.3 L165.4 71.3 L165.5 69.3 L165.6 67.3 L165.7 65.3 L165.8 63.3 L165.9 61.3 L166.0 59.3 L166.1 57.3 L166.2 55.3 L166.3 53.3 L166.4 51.3 L166.5 49.3 L166.7 47.3 L166.9 45.3 L167.2 43.3 L167.7 41.4 L168.2 39.4 L168.8 37.4 L169.3 35.5 L169.7 33.5 L170.2 31.6 L170.7 29.7 L171.4 27.8 L172.3 26.0 L173.4 24.3 L174.7 22.7 L176.1 21.4 L177.8 20.2 L179.6 19.4 L181.6 18.9 L183.6 18.6 L185.6 18.4 L187.5 18.3 L189.5 18.2 L191.6 18.2 L193.6 18.3 L195.6 18.6 L197.6 18.9 L199.5 19.4 L201.4 19.9 L203.3 20.5 L205.2 21.1 L207.1 21.7 L209.0 22.4 L210.9 23.0 L212.8 23.7 L214.7 24.3 L216.6 25.0 L218.4 25.8 L220.3 26.5 L222.2 27.2 L224.1 28.0 L225.9 28.7 L227.8 29.5 L229.6 30.3 L231.5 31.2 L233.3 32.0 L235.1 32.9 L236.9 33.8 L238.7 34.7 L240.5 35.6 L242.2 36.6 L244.0 37.5 L245.7 38.5 L247.4 39.6 L249.2 40.6 L250.8 41.7 L252.5 42.8 L254.2 43.8 L255.9 45.0 L257.5 46.1 L259.1 47.2 L260.8 48.4 L262.4 49.6 L264.0 50.8 L265.6 52.0 L267.2 53.2 L268.8 54.4 L270.3 55.6 L271.9 56.9 L273.5 58.1 L275.0 59.4 L276.6 60.6 L278.1 61.9 L279.6 63.2 L281.2 64.5 L282.7 65.8 L284.2 67.1 L285.8 68.4 L287.3 69.7 L288.8 71.0 L290.3 72.3 L291.8 73.6 L293.3 75.0 L294.8 76.3 L296.3 77.6 L297.8 79.0 L299.3 80.3 L300.8 81.7 L302.3 83.0 L303.8 84.3 L305.2 85.7 L306.7 87.1 L308.2 88.4 L309.7 89.8 L311.1 91.1 L312.6 92.5 L314.1 93.9 L315.6 95.2 L317.0 96.6 L318.5 98.0 L320.0 99.3 L321.4 100.7 L322.9 102.1 L324.4 103.5 L325.8 104.8 L327.3 106.2 L328.7 107.5 L330.2 108.9 L331.7 110.3 L333.1 111.7 L334.6 113.0 L336.1 114.4 L337.5 115.8 L339.0 117.1 L340.4 118.5 L341.9 119.9 L343.4 121.2 L344.8 122.6 L346.3 124.0 L347.8 125.3 L349.2 126.7 L350.7 128.0 L352.2 129.4 L353.6 130.8 L355.1 132.1 L356.6 133.5 L358.0 134.9 L359.5 136.2 L361.0 137.6 L362.4 138.9 L363.9 140.3 L365.4 141.7 L366.8 143.0 L368.3 144.4 L369.8 145.8 L371.2 147.1 L372.7 148.5 L374.2 149.8 L375.7 151.2 L377.1 152.6 L378.6 153.9 L380.1 155.3 L381.6 156.6 L383.0 158.0 L384.5 159.4 L386.0 160.7 L387.5 162.1 L388.9 163.4 L390.4 164.8 L391.9 166.2 L393.4 167.5 L394.9 168.9 L396.3 170.3 L397.8 171.6 L399.3 173.0 L400.7 174.4 L402.2 175.8 L403.6 177.1 L405.1 178.5 L406.6 179.9 L408.0 181.3 L409.4 182.7 L410.9 184.1 L412.3 185.5 L413.7 186.9 L415.2 188.3 L416.6 189.8 L418.0 191.2 L419.4 192.6 L420.8 194.1 L422.1 195.5 L423.5 197.0 L424.9 198.5 L426.2 199.9 L427.6 201.4 L428.9 202.9 L430.2 204.4 L431.5 205.9 L432.9 207.4 L434.1 209.0 L435.4 210.5 L436.7 212.0 L438.0 213.6 L439.2 215.1 L440.5 216.7 L441.8 218.2 L443.0 219.8 L444.2 221.4 L445.5 223.0 L446.7 224.6 L447.9 226.2 L449.1 227.8 L450.3 229.3 L451.5 230.9 L452.7 232.6 L453.9 234.2 L455.1 235.8 L456.3 237.4 L457.5 239.0 L458.7 240.6 L459.9 242.2 L461.1 243.8 L462.3 245.5 L463.4 247.1 L464.6 248.7 L465.8 250.3 L467.0 251.9 L468.2 253.5 L469.4 255.2 L470.6 256.8 L471.8 258.4 L472.9 260.0 L474.1 261.6 L475.4 263.2 L476.6 264.8 L477.8 266.4 L479.0 268.0 L480.2 269.6 L481.4 271.1 L482.6 272.7 L483.9 274.3 L485.1 275.9 L486.3 277.4 L487.6 279.0 L488.8 280.6 L490.1 282.1 L491.4 283.6 L492.6 285.2 L493.9 286.7 L495.2 288.2 L496.5 289.8 L497.8 291.3 L499.1 292.8 L500.4 294.3 L501.7 295.8 L503.1 297.3 L504.4 298.7 L505.8 300.2 L507.1 301.7 L508.5 303.1 L509.9 304.6 L511.3 306.0 L512.7 307.4 L514.1 308.8 L515.6 310.2 L517.0 311.6 L518.5 313.0 L519.9 314.4 L521.4 315.8 L522.9 317.1 L524.4 318.5 L525.9 319.9 L527.4 321.2 L528.9 322.5 L530.4 323.9 L531.9 325.2 L533.4 326.5 L535.0 327.8 L536.5 329.1 L538.1 330.4 L539.6 331.7 L541.2 332.9 L542.7 334.2 L544.3 335.5 L545.9 336.7 L547.4 338.0 L549.0 339.2 L550.6 340.5 L552.2 341.7 L553.8 342.9 L555.4 344.1 L556.9 345.3 L558.5 346.5 L560.1 347.7 L561.8 348.9 L563.4 350.1 L565.0 351.3 L566.6 352.4 L568.2 353.6 L569.9 354.7 L571.5 355.9 L573.1 357.0 L574.8 358.1 L576.4 359.2 L578.1 360.3 L579.8 361.4 L581.5 362.5 L583.1 363.6 L584.8 364.6 L586.5 365.7 L588.2 366.7 L589.9 367.8 L591.6 368.8 L593.4 369.8 L595.1 370.8 L596.8 371.8 L598.6 372.8 L600.3 373.8 L602.1 374.7 L603.9 375.7 L605.6 376.6 L607.4 377.6 L609.2 378.5 L611.0 379.4 L612.8 380.3 L614.6 381.2 L616.4 382.1 L618.2 383.0 L620.0 383.9 L621.8 384.8 L623.6 385.7 L625.4 386.5 L627.2 387.4 L629.0 388.3 L630.9 389.1 L632.7 390.0 L634.5 390.8 L636.3 391.6 L638.2 392.5 L640.0 393.3 L641.8 394.1 L643.7 395.0 L645.5 395.8 L647.3 396.6 L649.1 397.4 L651.0 398.2 L652.8 399.0 L654.6 399.8 L656.5 400.6 L658.3 401.4 L660.2 402.2 L662.0 402.9 L663.9 403.7 L665.7 404.5 L667.6 405.2 L669.4 405.9 L671.3 406.7 L673.1 407.4 L675.0 408.1 L676.9 408.8 L678.8 409.5 L680.6 410.1 L682.5 410.8 L684.4 411.5 L686.3 412.1 L688.2 412.7 L690.1 413.4 L692.0 414.0 L693.9 414.6 L695.8 415.1 L697.8 415.7 L699.7 416.2 L701.6 416.8 L703.6 417.3 L705.5 417.9 L707.5 418.4 L709.4 418.9 L711.4 419.4 L713.3 419.9 L715.2 420.3 L717.2 420.8 L719.2 421.3 L721.1 421.7 L723.1 422.2 L725.0 422.6 L727.0 423.1 L729.0 423.6 L730.9 424.0 L732.9 424.4 L734.8 424.9 L736.8 425.3 L738.7 425.8 L740.7 426.2 L742.6 426.7 L744.6 427.1 L746.5 427.6 L748.5 428.0 L750.4 428.5" stroke="#9ACD32"/>
</g>
<rect x="132.60" y="3.00" width="617.90" height="463.90" fill="none" stroke="#000" stroke-width="2"/>
<g font-family="'Liberation Sans', sans-serif" font-size="25" fill="#000">
<text x="116.8" y="421.02" text-anchor="end">500</text>
<text x="116.8" y="330.06" text-anchor="end">1000</text>
<text x="116.8" y="239.10" text-anchor="end">1500</text>
<text x="116.8" y="148.14" text-anchor="end">2000</text>
<text x="116.8" y="57.18" text-anchor="end">2500</text>
<text x="136.40" y="500.8" text-anchor="middle">1e+06</text>
<text x="290.88" y="500.8" text-anchor="middle">1e+07</text>
<text x="445.35" y="500.8" text-anchor="middle">1e+08</text>
<text x="599.82" y="500.8" text-anchor="middle">1e+09</text>
<text x="754.30" y="500.8" text-anchor="middle">1e+10</text>
<text x="441.5" y="538.0" text-anchor="middle">Time (yr)</text>
<text transform="translate(20.8,235.0) rotate(-90) scale(0.975,1)" text-anchor="middle">T<tspan font-size="20" dy="7.5">surf</tspan><tspan dy="-7.5"> (K)</tspan></text>
<text x="733" y="54.2" text-anchor="end" fill="#9ACD32">23 M<tspan font-size="20" dy="7.5">J</tspan></text>
<text x="733" y="90.5" text-anchor="end" fill="#808000">20 M<tspan font-size="20" dy="7.5">J</tspan></text>
<text x="733" y="126.8" text-anchor="end" fill="#7B68EE">19 M<tspan font-size="20" dy="7.5">J</tspan></text>
<text x="733" y="163.1" text-anchor="end" fill="#FF0000">17 M<tspan font-size="20" dy="7.5">J</tspan></text>
<text x="733" y="199.4" text-anchor="end" fill="#808080">16 M<tspan font-size="20" dy="7.5">J</tspan></text>
<text x="733" y="235.7" text-anchor="end" fill="#0000FF">15 M<tspan font-size="20" dy="7.5">J</tspan></text>
<text x="733" y="272.0" text-anchor="end" fill="#FFA500">14 M<tspan font-size="20" dy="7.5">J</tspan></text>
<text x="733" y="308.3" text-anchor="end" fill="#000000">13 M<tspan font-size="20" dy="7.5">J</tspan></text>
<text x="733" y="344.6" text-anchor="end" fill="#A52A2A">12 M<tspan font-size="20" dy="7.5">J</tspan></text>
<text x="733" y="380.9" text-anchor="end" fill="#C080FF">11 M<tspan font-size="20" dy="7.5">J</tspan></text>
<text x="662" y="344.6" text-anchor="end" fill="#40E0D0">10 M<tspan font-size="20" dy="7.5">J</tspan></text>
</g>
</svg>
</body></html>
